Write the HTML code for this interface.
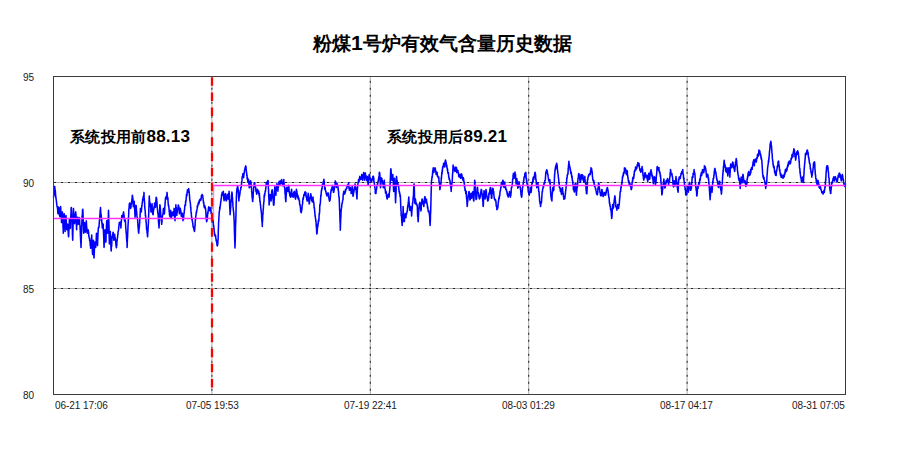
<!DOCTYPE html>
<html><head><meta charset="utf-8"><style>
html,body{margin:0;padding:0;background:#fff;}
body{width:900px;height:451px;position:relative;overflow:hidden;font-family:"Liberation Sans",sans-serif;}
.t{position:absolute;white-space:nowrap;line-height:1;}
.title{font-size:19px;font-weight:bold;color:#000;}
.ann{font-size:15px;font-weight:bold;color:#000;letter-spacing:0.3px;}
.dg{font-size:17px;letter-spacing:0.2px;}
.d1{font-size:21px;}
.ax{font-size:10px;color:#1a1a1a;letter-spacing:-0.05px;}
</style></head><body>
<svg width="900" height="451" style="position:absolute;left:0;top:0">
<line x1="211.9" y1="76.5" x2="211.9" y2="394.5" stroke="#aaaaaa" stroke-width="1"/><line x1="211.9" y1="80.8" x2="211.9" y2="394.5" stroke="#222" stroke-width="1" stroke-dasharray="2 5"/><line x1="370.3" y1="76.5" x2="370.3" y2="394.5" stroke="#aaaaaa" stroke-width="1"/><line x1="370.3" y1="80.8" x2="370.3" y2="394.5" stroke="#222" stroke-width="1" stroke-dasharray="2 5"/><line x1="528.7" y1="76.5" x2="528.7" y2="394.5" stroke="#aaaaaa" stroke-width="1"/><line x1="528.7" y1="80.8" x2="528.7" y2="394.5" stroke="#222" stroke-width="1" stroke-dasharray="2 5"/><line x1="687.1" y1="76.5" x2="687.1" y2="394.5" stroke="#aaaaaa" stroke-width="1"/><line x1="687.1" y1="80.8" x2="687.1" y2="394.5" stroke="#222" stroke-width="1" stroke-dasharray="2 5"/><line x1="53.5" y1="182.5" x2="845.5" y2="182.5" stroke="#aaaaaa" stroke-width="1"/><line x1="54.0" y1="182.5" x2="845.5" y2="182.5" stroke="#222" stroke-width="1" stroke-dasharray="2 5"/><line x1="53.5" y1="288.5" x2="845.5" y2="288.5" stroke="#aaaaaa" stroke-width="1"/><line x1="54.0" y1="288.5" x2="845.5" y2="288.5" stroke="#222" stroke-width="1" stroke-dasharray="2 5"/>
<path d="M53.5,197.7 L53.7,196.1 L53.8,194.1 L54.0,195.4 L54.1,191.7 L54.3,191.0 L54.4,188.0 L54.6,186.7 L54.7,186.4 L54.9,189.0 L55.0,189.6 L55.2,191.1 L55.3,190.6 L55.5,193.2 L55.6,194.7 L55.8,197.5 L55.9,196.9 L56.1,199.5 L56.2,199.5 L56.4,201.4 L56.5,201.5 L56.6,203.8 L56.8,203.9 L56.9,205.4 L57.1,206.6 L57.2,206.9 L57.4,207.7 L57.5,208.7 L57.7,210.4 L57.8,212.5 L58.0,213.7 L58.1,212.2 L58.3,210.7 L58.4,209.4 L58.6,207.0 L58.7,208.7 L58.9,207.5 L59.0,208.2 L59.2,209.8 L59.3,212.9 L59.5,215.4 L59.6,215.7 L59.8,215.5 L59.9,216.7 L60.0,214.2 L60.2,214.9 L60.3,211.7 L60.5,209.6 L60.6,206.6 L60.8,209.4 L60.9,212.3 L61.1,214.5 L61.2,215.3 L61.4,218.3 L61.5,222.6 L61.7,221.0 L61.8,218.1 L62.0,218.0 L62.1,218.0 L62.3,215.7 L62.4,211.9 L62.6,214.7 L62.7,220.3 L62.9,222.1 L63.0,227.1 L63.2,228.6 L63.3,233.2 L63.4,228.0 L63.6,225.5 L63.7,223.0 L63.9,218.2 L64.0,216.4 L64.2,213.7 L64.3,215.8 L64.5,217.9 L64.6,220.8 L64.8,224.5 L64.9,227.4 L65.1,231.4 L65.2,228.5 L65.4,227.1 L65.5,225.5 L65.7,222.3 L65.8,218.5 L66.0,215.5 L66.1,218.6 L66.3,221.5 L66.4,224.7 L66.5,225.8 L66.7,227.5 L66.8,229.7 L67.0,228.3 L67.1,226.6 L67.3,224.2 L67.4,224.2 L67.6,224.4 L67.7,224.3 L67.9,225.4 L68.0,228.6 L68.2,231.4 L68.3,234.0 L68.5,236.3 L68.6,236.8 L68.8,233.0 L68.9,230.3 L69.1,225.2 L69.2,224.0 L69.4,219.5 L69.5,219.0 L69.7,219.4 L69.8,222.7 L69.9,223.0 L70.1,224.7 L70.2,228.4 L70.4,227.9 L70.5,225.2 L70.7,219.9 L70.8,216.0 L71.0,213.2 L71.1,208.6 L71.3,207.5 L71.4,210.9 L71.6,211.6 L71.7,214.6 L71.9,217.6 L72.0,220.6 L72.2,220.8 L72.3,227.6 L72.4,233.2 L72.6,238.2 L72.7,240.3 L72.8,236.2 L73.0,228.6 L73.1,224.5 L73.3,216.8 L73.4,208.4 L73.6,209.9 L73.7,212.5 L73.9,215.4 L74.0,218.6 L74.2,218.3 L74.3,220.6 L74.5,222.6 L74.6,223.6 L74.8,222.0 L74.9,221.4 L75.1,219.3 L75.2,215.8 L75.4,214.2 L75.6,212.7 L75.7,211.9 L75.9,214.7 L76.0,215.4 L76.2,218.7 L76.3,220.6 L76.4,225.0 L76.6,229.7 L76.7,224.7 L76.9,225.8 L77.0,223.0 L77.2,221.5 L77.3,218.4 L77.5,217.3 L77.6,217.4 L77.8,218.8 L77.9,220.7 L78.1,220.4 L78.2,220.3 L78.4,224.3 L78.5,222.7 L78.7,221.0 L78.8,219.8 L79.0,218.1 L79.1,217.6 L79.3,219.0 L79.4,220.4 L79.6,219.7 L79.7,222.6 L79.8,224.5 L80.0,225.4 L80.1,227.9 L80.3,231.7 L80.4,235.5 L80.6,238.8 L80.7,241.9 L80.9,243.7 L81.0,247.4 L81.2,241.8 L81.3,238.1 L81.5,232.9 L81.6,227.7 L81.8,224.9 L81.9,220.8 L82.1,216.1 L82.2,215.9 L82.4,214.3 L82.5,209.8 L82.7,210.1 L82.8,209.3 L82.9,211.3 L83.1,215.4 L83.2,220.0 L83.4,224.3 L83.5,230.4 L83.7,233.2 L83.8,232.6 L84.0,231.7 L84.1,229.4 L84.3,224.9 L84.4,223.6 L84.6,222.6 L84.7,223.2 L84.9,224.6 L85.0,226.8 L85.2,228.9 L85.3,232.2 L85.5,231.4 L85.6,231.5 L85.8,229.0 L85.9,227.5 L86.1,226.4 L86.2,224.9 L86.3,220.8 L86.5,223.9 L86.6,226.9 L86.8,227.0 L86.9,230.0 L87.1,231.5 L87.2,233.2 L87.4,231.1 L87.5,232.3 L87.7,230.7 L87.8,230.6 L88.0,230.2 L88.1,229.7 L88.3,231.1 L88.4,231.7 L88.6,231.8 L88.7,235.2 L88.9,236.7 L89.0,236.8 L89.2,237.5 L89.3,238.4 L89.5,238.2 L89.6,240.8 L89.7,240.8 L89.9,240.3 L90.0,241.4 L90.2,244.3 L90.3,246.0 L90.5,245.2 L90.6,248.3 L90.8,247.4 L90.9,245.8 L91.1,242.8 L91.2,242.3 L91.4,239.0 L91.5,238.1 L91.7,235.0 L91.8,238.8 L92.0,240.7 L92.1,245.2 L92.3,249.5 L92.4,251.7 L92.6,254.5 L92.7,252.9 L92.8,251.8 L93.0,248.4 L93.1,246.5 L93.3,244.6 L93.4,240.3 L93.6,248.0 L93.7,250.3 L93.8,254.1 L94.0,258.0 L94.1,256.6 L94.3,252.5 L94.4,248.2 L94.5,246.5 L94.7,242.1 L94.8,243.9 L95.0,243.6 L95.1,245.6 L95.3,245.8 L95.4,246.3 L95.6,246.0 L95.7,247.4 L95.9,243.6 L96.0,243.0 L96.2,240.5 L96.3,236.7 L96.5,233.2 L96.6,235.2 L96.8,236.8 L96.9,237.2 L97.1,239.9 L97.2,240.9 L97.4,242.2 L97.5,245.6 L97.7,240.1 L97.8,238.3 L97.9,234.4 L98.1,232.5 L98.2,229.7 L98.4,227.7 L98.5,228.0 L98.7,227.0 L98.8,227.2 L99.0,227.3 L99.1,224.5 L99.3,222.6 L99.4,220.7 L99.6,219.6 L99.8,216.5 L99.9,215.2 L100.1,212.3 L100.2,210.2 L100.4,209.7 L100.5,207.5 L100.7,211.2 L100.8,213.2 L101.0,213.9 L101.1,215.3 L101.3,216.1 L101.4,220.8 L101.6,219.2 L101.7,220.1 L101.9,223.5 L102.0,222.6 L102.2,226.6 L102.3,227.9 L102.5,226.4 L102.6,226.1 L102.7,225.1 L102.9,226.8 L103.0,224.0 L103.2,224.3 L103.3,228.7 L103.5,232.5 L103.6,235.0 L103.8,238.4 L103.9,244.0 L104.1,247.4 L104.2,243.4 L104.4,239.8 L104.5,237.7 L104.7,232.8 L104.8,232.2 L105.0,229.7 L105.1,232.4 L105.3,233.4 L105.4,236.4 L105.6,240.0 L105.7,240.1 L105.9,242.1 L106.0,240.0 L106.1,234.7 L106.3,232.3 L106.4,227.1 L106.6,223.8 L106.7,220.8 L106.9,220.9 L107.0,224.0 L107.2,225.7 L107.3,227.6 L107.5,230.7 L107.6,233.2 L107.8,229.1 L107.9,226.8 L108.1,221.6 L108.2,218.4 L108.4,214.6 L108.5,210.2 L108.7,215.5 L108.8,219.9 L109.0,225.9 L109.1,233.1 L109.2,237.6 L109.4,243.9 L109.5,243.2 L109.7,240.5 L109.8,239.9 L110.0,237.2 L110.1,234.5 L110.3,231.4 L110.4,234.1 L110.6,236.0 L110.7,240.7 L110.9,244.8 L111.0,248.9 L111.2,251.0 L111.3,248.2 L111.5,246.0 L111.6,246.4 L111.8,243.3 L111.9,240.2 L112.1,236.8 L112.2,238.1 L112.4,235.7 L112.5,236.4 L112.6,235.5 L112.8,234.1 L112.9,233.2 L113.1,232.2 L113.2,232.7 L113.4,234.7 L113.5,236.6 L113.7,235.6 L113.8,240.3 L114.0,235.6 L114.1,235.0 L114.3,236.2 L114.4,234.6 L114.6,234.4 L114.7,235.0 L114.9,237.1 L115.0,237.3 L115.2,237.7 L115.3,240.2 L115.5,239.3 L115.6,240.3 L115.8,242.7 L115.9,245.3 L116.0,245.2 L116.2,245.7 L116.3,247.7 L116.5,247.4 L116.6,245.6 L116.8,245.5 L116.9,240.8 L117.1,241.2 L117.2,238.7 L117.4,238.5 L117.5,237.6 L117.7,235.5 L117.8,235.2 L118.0,233.1 L118.1,231.7 L118.3,231.4 L118.4,230.3 L118.6,230.3 L118.7,227.8 L118.9,226.3 L119.0,225.4 L119.1,224.3 L119.3,222.5 L119.4,222.7 L119.6,222.9 L119.7,222.4 L119.9,222.3 L120.0,222.6 L120.2,222.0 L120.3,222.1 L120.5,223.1 L120.6,224.9 L120.8,225.3 L120.9,227.9 L121.1,225.2 L121.2,222.2 L121.4,221.5 L121.5,218.9 L121.7,217.1 L121.8,215.5 L122.0,215.7 L122.1,215.4 L122.3,215.4 L122.4,215.4 L122.5,215.2 L122.7,217.3 L122.8,217.1 L123.0,215.6 L123.1,213.7 L123.3,215.5 L123.4,213.3 L123.6,211.9 L123.7,213.5 L123.9,214.2 L124.0,214.5 L124.2,218.3 L124.3,217.3 L124.5,220.8 L124.6,219.5 L124.8,221.5 L124.9,218.9 L125.1,220.1 L125.2,220.3 L125.4,220.8 L125.5,222.4 L125.7,226.8 L125.8,227.7 L125.9,228.9 L126.1,232.1 L126.2,233.2 L126.4,233.8 L126.5,237.7 L126.7,239.9 L126.8,241.7 L127.0,241.5 L127.1,247.4 L127.3,243.1 L127.4,238.9 L127.6,236.3 L127.7,232.7 L127.9,229.5 L128.0,226.1 L128.2,222.8 L128.3,221.4 L128.5,217.0 L128.6,216.8 L128.8,211.1 L128.9,208.4 L129.0,209.3 L129.2,205.7 L129.3,204.1 L129.5,204.8 L129.6,203.0 L129.8,203.1 L129.9,203.6 L130.1,203.6 L130.2,204.8 L130.4,204.0 L130.5,206.7 L130.7,208.4 L130.8,206.9 L131.0,207.5 L131.1,204.0 L131.3,203.5 L131.4,204.5 L131.6,201.3 L131.7,202.3 L131.9,199.4 L132.0,198.9 L132.2,197.0 L132.3,195.2 L132.4,196.0 L132.6,196.2 L132.7,198.3 L132.9,198.3 L133.0,200.9 L133.2,203.9 L133.3,206.6 L133.5,203.8 L133.6,203.7 L133.8,202.4 L133.9,202.0 L134.1,202.2 L134.2,201.3 L134.4,204.7 L134.5,208.3 L134.7,209.7 L134.8,211.8 L135.0,215.1 L135.1,217.3 L135.3,214.3 L135.4,212.6 L135.5,211.3 L135.7,209.1 L135.8,205.7 L136.0,206.6 L136.1,205.4 L136.3,206.8 L136.4,208.7 L136.6,211.3 L136.7,212.3 L136.9,215.5 L137.0,216.9 L137.2,217.1 L137.3,217.7 L137.5,219.1 L137.6,219.1 L137.8,222.6 L137.9,224.8 L138.1,227.1 L138.2,228.1 L138.4,231.4 L138.5,232.2 L138.7,233.2 L138.8,232.2 L138.9,230.4 L139.1,228.5 L139.2,227.9 L139.4,226.2 L139.5,224.3 L139.7,222.5 L139.8,218.3 L140.0,218.0 L140.1,214.8 L140.3,212.2 L140.4,208.4 L140.6,210.1 L140.7,209.9 L140.9,209.2 L141.0,209.8 L141.2,210.6 L141.3,211.9 L141.5,209.5 L141.6,208.8 L141.8,205.3 L141.9,206.1 L142.1,204.4 L142.2,203.1 L142.3,202.2 L142.5,202.4 L142.6,199.3 L142.8,200.6 L142.9,200.3 L143.1,197.7 L143.2,196.7 L143.4,197.4 L143.5,197.8 L143.7,195.1 L143.8,196.1 L144.0,192.4 L144.1,198.0 L144.3,198.9 L144.4,200.3 L144.6,202.8 L144.7,206.9 L144.9,208.4 L145.0,209.5 L145.2,210.8 L145.3,212.8 L145.4,215.8 L145.6,215.3 L145.7,219.0 L145.9,217.9 L146.0,222.3 L146.2,222.1 L146.3,224.0 L146.5,227.5 L146.6,229.7 L146.8,228.4 L146.9,229.4 L147.1,233.3 L147.2,232.9 L147.4,234.4 L147.5,236.8 L147.7,236.0 L147.8,231.5 L148.0,231.2 L148.1,227.1 L148.3,224.7 L148.4,224.3 L148.6,217.3 L148.7,214.1 L148.8,210.0 L149.0,205.3 L149.1,201.4 L149.3,196.0 L149.4,198.1 L149.6,201.0 L149.7,202.5 L149.9,203.1 L150.0,204.5 L150.2,203.1 L150.3,204.9 L150.5,206.4 L150.6,207.2 L150.8,207.9 L150.9,211.3 L151.1,211.9 L151.2,210.3 L151.4,209.2 L151.5,207.1 L151.7,204.7 L151.8,204.5 L152.0,204.8 L152.1,203.8 L152.2,208.3 L152.4,208.3 L152.5,210.3 L152.7,214.2 L152.8,213.7 L153.0,213.5 L153.1,214.7 L153.3,211.8 L153.4,211.8 L153.6,209.1 L153.7,208.4 L153.9,209.5 L154.0,207.2 L154.2,206.2 L154.3,206.4 L154.5,205.5 L154.6,203.1 L154.8,204.5 L154.9,204.4 L155.1,206.0 L155.2,204.5 L155.3,207.3 L155.5,206.6 L155.6,204.0 L155.8,201.7 L155.9,200.6 L156.1,198.2 L156.2,197.2 L156.4,197.7 L156.5,197.8 L156.7,199.2 L156.8,200.8 L157.0,202.6 L157.1,205.1 L157.3,208.4 L157.4,209.2 L157.6,209.7 L157.7,212.3 L157.9,213.0 L158.0,213.5 L158.2,215.5 L158.3,217.8 L158.5,222.0 L158.6,222.5 L158.7,223.9 L158.9,225.9 L159.0,227.9 L159.2,224.2 L159.3,218.7 L159.5,214.8 L159.6,211.1 L159.8,206.2 L159.9,204.8 L160.1,205.9 L160.2,207.5 L160.4,209.4 L160.5,211.1 L160.7,213.0 L160.8,215.5 L161.0,217.1 L161.1,217.1 L161.3,220.9 L161.4,219.8 L161.6,223.5 L161.7,224.3 L161.8,221.5 L162.0,221.9 L162.1,218.8 L162.3,216.7 L162.4,216.6 L162.6,215.5 L162.7,214.9 L162.9,213.7 L163.0,213.0 L163.2,212.5 L163.3,209.0 L163.5,208.4 L163.6,210.6 L163.8,211.1 L163.9,213.5 L164.1,212.8 L164.2,213.9 L164.4,213.7 L164.5,211.9 L164.7,210.1 L164.8,207.0 L165.0,205.7 L165.1,202.8 L165.2,203.1 L165.4,198.5 L165.5,199.9 L165.7,197.1 L165.8,197.0 L166.0,199.1 L166.1,197.7 L166.3,197.3 L166.4,198.4 L166.6,195.9 L166.7,195.5 L166.9,196.1 L167.0,192.4 L167.2,194.0 L167.3,196.2 L167.5,198.4 L167.6,197.2 L167.8,199.7 L167.9,197.7 L168.1,202.3 L168.2,203.5 L168.4,205.3 L168.5,206.1 L168.6,205.1 L168.8,206.6 L168.9,207.6 L169.1,209.7 L169.2,212.2 L169.4,211.9 L169.5,214.9 L169.7,215.5 L169.8,215.0 L170.0,216.7 L170.1,215.0 L170.3,214.3 L170.4,213.8 L170.6,210.2 L170.7,212.5 L170.9,215.4 L171.0,216.8 L171.2,217.5 L171.3,216.4 L171.5,217.3 L171.6,215.3 L171.7,213.6 L171.9,214.4 L172.0,212.5 L172.2,211.9 L172.3,211.9 L172.5,212.6 L172.6,213.9 L172.8,213.5 L172.9,214.0 L173.1,215.6 L173.2,213.7 L173.4,215.2 L173.5,213.0 L173.7,211.5 L173.8,213.1 L174.0,211.4 L174.1,208.4 L174.3,211.9 L174.4,213.3 L174.6,216.9 L174.7,217.2 L174.9,218.5 L175.0,220.8 L175.1,217.3 L175.3,215.3 L175.4,213.3 L175.6,209.7 L175.7,208.6 L175.9,204.8 L176.0,206.4 L176.2,207.4 L176.3,209.6 L176.5,211.2 L176.6,213.0 L176.8,215.5 L176.9,213.6 L177.1,212.9 L177.2,211.9 L177.4,212.1 L177.5,209.2 L177.7,210.2 L177.8,209.3 L178.0,207.1 L178.1,208.1 L178.3,205.0 L178.4,205.6 L178.5,206.6 L178.7,205.7 L178.8,207.6 L179.0,207.1 L179.1,208.5 L179.3,209.7 L179.4,213.7 L179.6,212.2 L179.7,211.8 L179.9,209.6 L180.0,209.6 L180.2,208.5 L180.3,208.4 L180.5,210.6 L180.6,210.0 L180.8,211.3 L180.9,211.4 L181.1,214.1 L181.2,215.5 L181.4,216.4 L181.5,216.1 L181.6,214.3 L181.8,215.7 L181.9,214.9 L182.1,213.7 L182.2,213.2 L182.4,216.0 L182.5,215.1 L182.7,215.5 L182.8,218.3 L183.0,220.8 L183.1,219.6 L183.3,218.9 L183.4,219.5 L183.6,218.1 L183.7,216.4 L183.9,213.7 L184.0,212.8 L184.2,212.9 L184.3,211.0 L184.5,210.1 L184.6,208.5 L184.8,206.6 L184.9,205.8 L185.0,205.2 L185.2,204.9 L185.3,204.0 L185.5,205.4 L185.6,201.3 L185.8,202.5 L185.9,200.3 L186.1,200.5 L186.2,199.0 L186.4,196.1 L186.5,194.2 L186.7,196.3 L186.8,194.0 L187.0,195.5 L187.1,192.2 L187.3,191.8 L187.4,189.8 L187.6,190.6 L187.7,192.3 L187.9,192.0 L188.0,191.2 L188.2,189.7 L188.3,190.6 L188.4,190.0 L188.6,190.6 L188.7,188.5 L188.9,190.9 L189.0,190.8 L189.2,192.4 L189.3,194.1 L189.5,195.5 L189.6,197.3 L189.8,200.5 L189.9,200.3 L190.1,201.3 L190.2,202.7 L190.4,203.4 L190.5,204.9 L190.7,208.0 L190.8,207.2 L191.0,211.9 L191.1,212.4 L191.3,212.6 L191.4,215.3 L191.5,216.3 L191.7,217.4 L191.8,219.0 L192.0,220.2 L192.1,218.7 L192.3,220.3 L192.4,221.5 L192.6,222.6 L192.7,222.6 L192.9,224.6 L193.0,226.0 L193.2,226.3 L193.3,227.7 L193.5,227.7 L193.6,227.9 L193.8,228.0 L193.9,229.0 L194.1,230.2 L194.2,230.9 L194.4,230.0 L194.5,231.4 L194.7,229.3 L194.8,228.4 L194.9,225.6 L195.1,226.0 L195.2,221.7 L195.4,219.0 L195.5,220.1 L195.7,218.2 L195.8,215.8 L196.0,215.5 L196.1,213.8 L196.3,211.9 L196.4,213.0 L196.6,211.9 L196.7,210.2 L196.9,210.2 L197.0,209.4 L197.2,208.4 L197.3,205.9 L197.5,207.2 L197.6,206.5 L197.8,206.3 L197.9,205.0 L198.0,204.8 L198.2,203.3 L198.3,202.7 L198.5,204.0 L198.6,202.6 L198.8,204.1 L198.9,201.3 L199.1,202.7 L199.2,202.8 L199.4,200.8 L199.5,200.1 L199.7,201.3 L199.8,200.1 L200.0,199.3 L200.2,199.8 L200.3,199.4 L200.5,200.1 L200.6,199.7 L200.8,198.7 L200.9,200.1 L201.1,199.2 L201.2,198.2 L201.4,196.1 L201.5,195.2 L201.7,196.3 L201.8,196.1 L202.0,196.2 L202.1,195.7 L202.2,194.4 L202.4,195.9 L202.5,195.4 L202.7,195.3 L202.8,197.1 L202.9,197.5 L203.1,198.2 L203.2,199.9 L203.4,201.3 L203.5,203.1 L203.6,201.5 L203.8,203.0 L203.9,204.8 L204.1,206.8 L204.2,206.8 L204.4,207.0 L204.5,207.8 L204.7,205.4 L204.8,207.7 L205.0,207.3 L205.1,207.2 L205.3,207.0 L205.4,209.0 L205.6,208.7 L205.7,210.8 L205.9,212.9 L206.0,214.0 L206.1,217.8 L206.3,218.9 L206.4,219.4 L206.6,221.8 L206.7,220.5 L206.8,221.2 L207.0,220.6 L207.1,218.3 L207.3,219.2 L207.4,217.7 L207.5,216.5 L207.7,212.7 L207.8,212.3 L208.0,213.6 L208.1,210.4 L208.2,211.2 L208.4,210.2 L208.5,208.0 L208.7,206.9 L208.8,208.9 L208.9,210.2 L209.1,209.3 L209.2,208.3 L209.4,209.7 L209.5,208.2 L209.6,210.8 L209.8,209.4 L209.9,208.1 L210.0,207.4 L210.2,210.3 L210.3,207.8 L210.5,208.6 L210.6,208.8 L210.7,211.1 L210.9,209.8 L211.0,211.9 L211.2,213.6 L211.3,213.5 L211.4,213.5 L211.6,212.7 L211.7,215.5 L211.9,216.1 L212.0,215.9 L212.1,216.5 L212.3,216.0 L212.4,216.8 L212.6,220.5 L212.7,220.9 L212.8,221.8 L213.0,219.9 L213.1,221.5 L213.3,222.6 L213.4,225.2 L213.5,226.4 L213.7,225.4 L213.8,226.4 L213.9,229.3 L214.1,228.7 L214.2,232.2 L214.4,232.0 L214.5,234.2 L214.6,235.1 L214.8,235.4 L214.9,234.0 L215.1,236.3 L215.2,235.4 L215.3,235.0 L215.5,236.1 L215.6,235.4 L215.8,238.2 L215.9,238.5 L216.0,238.5 L216.2,241.0 L216.3,239.9 L216.5,242.0 L216.6,242.2 L216.7,241.7 L216.9,243.1 L217.0,245.4 L217.2,245.1 L217.3,244.9 L217.4,245.9 L217.6,244.7 L217.7,244.7 L217.9,242.0 L218.0,240.0 L218.2,237.1 L218.3,230.0 L218.5,227.8 L218.6,222.5 L218.8,220.5 L218.9,217.5 L219.1,214.7 L219.2,212.4 L219.4,211.3 L219.5,211.3 L219.7,208.1 L219.8,206.9 L220.0,208.8 L220.1,206.5 L220.3,205.8 L220.4,204.7 L220.6,203.6 L220.7,201.6 L220.9,201.5 L221.0,199.9 L221.2,198.4 L221.3,199.1 L221.5,196.3 L221.6,194.5 L221.8,194.1 L221.9,194.0 L222.0,194.0 L222.2,192.4 L222.3,195.2 L222.4,194.6 L222.6,193.5 L222.7,194.2 L222.9,194.8 L223.0,193.0 L223.1,195.2 L223.3,191.3 L223.4,196.1 L223.6,195.0 L223.7,195.6 L223.8,198.7 L224.0,199.9 L224.1,200.6 L224.3,199.1 L224.4,198.8 L224.5,198.2 L224.7,195.5 L224.8,194.7 L225.0,194.1 L225.1,194.5 L225.2,195.2 L225.4,193.5 L225.5,197.2 L225.7,195.7 L225.8,199.7 L225.9,198.5 L226.1,201.0 L226.2,201.0 L226.3,200.8 L226.5,200.4 L226.6,198.1 L226.8,197.9 L226.9,196.0 L227.0,196.9 L227.2,196.1 L227.3,194.4 L227.5,197.2 L227.6,196.7 L227.7,195.5 L227.9,198.6 L228.0,197.2 L228.2,199.1 L228.3,195.8 L228.4,195.3 L228.6,193.5 L228.7,193.4 L228.9,193.8 L229.0,193.8 L229.1,191.3 L229.3,195.4 L229.4,199.6 L229.6,203.0 L229.7,206.0 L229.8,208.3 L230.0,211.2 L230.1,214.7 L230.2,212.2 L230.4,211.4 L230.5,208.2 L230.7,207.7 L230.8,204.3 L230.9,203.0 L231.1,201.0 L231.2,199.4 L231.4,198.4 L231.5,195.7 L231.6,194.8 L231.8,194.8 L231.9,192.1 L232.1,193.2 L232.2,194.1 L232.3,197.0 L232.5,197.4 L232.6,201.1 L232.8,202.2 L232.9,205.2 L233.0,206.9 L233.2,207.6 L233.3,209.8 L233.5,211.1 L233.6,211.2 L233.7,213.7 L233.9,215.4 L234.0,218.6 L234.2,221.1 L234.3,226.2 L234.4,231.5 L234.6,235.7 L234.7,240.2 L234.8,242.8 L235.0,247.9 L235.1,243.9 L235.3,238.8 L235.4,234.9 L235.5,227.2 L235.7,222.8 L235.8,220.3 L236.0,212.7 L236.1,207.7 L236.2,203.2 L236.4,197.1 L236.5,195.2 L236.6,192.4 L236.8,190.3 L236.9,189.3 L237.1,188.1 L237.2,189.0 L237.4,187.2 L237.5,187.6 L237.6,185.9 L237.8,187.0 L237.9,188.3 L238.1,188.5 L238.2,190.8 L238.3,193.1 L238.5,192.6 L238.6,197.3 L238.7,198.2 L238.9,201.0 L239.0,198.1 L239.2,197.8 L239.3,195.7 L239.4,195.2 L239.6,196.1 L239.7,194.7 L239.9,193.2 L240.0,193.6 L240.1,190.9 L240.3,190.1 L240.4,190.2 L240.6,189.8 L240.7,189.8 L240.8,187.4 L241.0,187.2 L241.1,187.8 L241.3,186.4 L241.4,184.4 L241.5,184.7 L241.7,181.4 L241.8,181.5 L242.0,180.4 L242.1,177.7 L242.2,176.5 L242.4,177.0 L242.5,176.4 L242.7,175.9 L242.8,173.7 L242.9,175.0 L243.1,177.0 L243.2,176.7 L243.3,175.0 L243.5,174.7 L243.6,177.7 L243.8,175.7 L243.9,175.2 L244.0,173.3 L244.2,172.5 L244.3,173.1 L244.5,170.5 L244.6,170.1 L244.7,169.8 L244.9,169.4 L245.0,167.8 L245.2,168.1 L245.3,168.4 L245.4,167.3 L245.6,166.2 L245.7,165.9 L245.9,166.8 L246.0,167.1 L246.1,169.3 L246.3,170.6 L246.4,171.6 L246.6,172.5 L246.7,173.7 L246.8,175.6 L247.0,174.9 L247.1,177.4 L247.2,179.2 L247.4,177.4 L247.5,179.0 L247.7,179.6 L247.8,181.9 L247.9,179.2 L248.1,181.5 L248.2,180.8 L248.4,179.3 L248.5,181.4 L248.6,181.5 L248.8,181.1 L248.9,184.6 L249.1,184.1 L249.2,187.0 L249.3,187.8 L249.5,186.2 L249.6,187.4 L249.8,186.6 L249.9,184.9 L250.0,185.7 L250.2,182.6 L250.3,181.6 L250.5,180.7 L250.6,181.5 L250.7,182.8 L250.9,181.9 L251.0,183.1 L251.1,184.6 L251.3,186.2 L251.4,187.2 L251.6,189.3 L251.7,192.0 L251.8,192.1 L252.0,194.4 L252.1,197.4 L252.3,197.3 L252.4,198.9 L252.5,201.0 L252.7,201.5 L252.8,198.6 L253.0,198.8 L253.1,196.7 L253.2,193.5 L253.4,191.5 L253.5,191.3 L253.7,187.2 L253.8,187.9 L253.9,185.8 L254.1,184.7 L254.2,183.3 L254.4,182.7 L254.5,183.5 L254.6,184.6 L254.8,183.1 L254.9,184.9 L255.1,185.7 L255.2,185.9 L255.3,186.4 L255.5,187.4 L255.6,187.2 L255.7,187.6 L255.9,190.4 L256.0,191.5 L256.2,191.4 L256.3,191.4 L256.4,191.3 L256.6,194.2 L256.7,191.9 L256.9,191.5 L257.0,192.7 L257.1,193.1 L257.3,192.0 L257.4,189.3 L257.6,190.2 L257.7,192.6 L257.8,190.0 L258.0,190.4 L258.1,192.1 L258.3,191.4 L258.4,191.3 L258.5,192.4 L258.7,191.0 L258.8,194.1 L259.0,193.4 L259.1,192.9 L259.2,195.9 L259.4,193.2 L259.5,197.8 L259.6,196.4 L259.8,199.0 L259.9,201.6 L260.1,201.2 L260.2,202.2 L260.3,203.0 L260.5,205.5 L260.6,205.5 L260.8,208.1 L260.9,208.7 L261.0,209.8 L261.2,210.9 L261.3,212.7 L261.5,213.1 L261.6,216.7 L261.7,218.4 L261.9,220.3 L262.0,222.3 L262.2,223.2 L262.3,226.4 L262.4,221.7 L262.6,221.1 L262.7,216.7 L262.9,213.4 L263.0,214.1 L263.1,210.7 L263.3,208.8 L263.4,207.9 L263.5,205.5 L263.7,203.5 L263.8,202.0 L264.0,201.5 L264.1,197.7 L264.2,195.2 L264.4,196.9 L264.5,194.4 L264.7,195.6 L264.8,193.1 L264.9,193.5 L265.1,192.2 L265.2,191.3 L265.4,190.9 L265.5,191.1 L265.6,189.5 L265.8,188.8 L265.9,186.6 L266.1,185.7 L266.2,183.5 L266.3,184.2 L266.5,185.6 L266.6,182.7 L266.8,183.4 L266.9,184.3 L267.0,183.1 L267.2,181.5 L267.3,181.5 L267.5,183.7 L267.6,180.9 L267.7,180.9 L267.9,180.5 L268.0,181.6 L268.1,180.5 L268.3,186.2 L268.4,187.8 L268.6,191.2 L268.7,196.1 L268.8,197.3 L269.0,200.4 L269.1,204.9 L269.3,203.9 L269.4,200.4 L269.5,200.0 L269.7,197.1 L269.8,196.7 L270.0,195.7 L270.1,195.2 L270.2,194.5 L270.4,195.2 L270.5,197.4 L270.7,198.9 L270.8,198.2 L270.9,199.8 L271.1,201.0 L271.2,198.7 L271.4,197.2 L271.5,194.6 L271.6,193.9 L271.8,190.9 L271.9,191.4 L272.0,191.3 L272.2,189.7 L272.3,190.5 L272.5,191.3 L272.6,192.7 L272.7,194.3 L272.9,197.9 L273.0,199.1 L273.2,199.5 L273.3,200.9 L273.4,203.8 L273.6,205.2 L273.7,205.0 L273.9,203.6 L274.0,204.9 L274.1,201.1 L274.3,198.5 L274.4,194.7 L274.6,192.1 L274.7,189.2 L274.8,186.8 L275.0,187.4 L275.1,187.0 L275.3,187.7 L275.4,188.4 L275.5,189.6 L275.7,191.2 L275.8,192.5 L275.9,195.2 L276.1,190.0 L276.2,190.8 L276.4,188.3 L276.5,186.9 L276.6,187.7 L276.8,186.0 L276.9,183.5 L277.1,185.5 L277.2,186.2 L277.3,188.0 L277.5,188.6 L277.6,188.9 L277.8,188.7 L277.9,191.3 L278.0,189.2 L278.2,187.1 L278.3,187.7 L278.5,186.0 L278.6,184.4 L278.7,185.0 L278.9,185.4 L279.0,182.3 L279.2,181.3 L279.3,182.0 L279.4,181.4 L279.6,182.6 L279.7,184.2 L279.9,181.5 L280.0,184.5 L280.1,183.3 L280.3,181.6 L280.4,181.5 L280.5,181.1 L280.7,181.3 L280.8,183.5 L281.0,182.0 L281.1,180.2 L281.2,181.6 L281.4,181.5 L281.5,182.2 L281.7,182.7 L281.8,179.6 L281.9,181.6 L282.1,183.0 L282.2,182.7 L282.4,183.9 L282.5,185.2 L282.6,184.2 L282.8,185.4 L282.9,185.8 L283.1,185.1 L283.2,183.4 L283.3,182.9 L283.5,183.9 L283.6,181.8 L283.8,179.6 L283.9,181.8 L284.0,183.2 L284.2,185.2 L284.3,186.0 L284.4,186.9 L284.6,187.7 L284.7,187.4 L284.9,189.8 L285.0,192.3 L285.1,194.3 L285.3,194.4 L285.4,198.0 L285.6,199.2 L285.7,201.0 L285.8,201.6 L286.0,199.7 L286.1,195.5 L286.3,195.1 L286.4,191.5 L286.5,188.2 L286.7,187.4 L286.8,187.9 L287.0,187.9 L287.1,187.5 L287.2,188.2 L287.4,190.3 L287.5,190.2 L287.7,191.3 L287.8,191.5 L287.9,191.2 L288.1,191.1 L288.2,190.1 L288.3,187.4 L288.5,186.0 L288.6,185.4 L288.8,186.9 L288.9,188.0 L289.0,188.6 L289.2,191.4 L289.3,192.6 L289.5,193.4 L289.6,193.2 L289.7,194.9 L289.9,195.8 L290.0,194.3 L290.2,196.2 L290.3,194.2 L290.4,196.6 L290.6,197.1 L290.7,194.4 L290.9,192.8 L291.0,191.9 L291.1,192.5 L291.3,191.5 L291.4,191.6 L291.6,189.3 L291.7,190.3 L291.8,193.7 L292.0,193.3 L292.1,194.3 L292.3,196.2 L292.4,196.8 L292.5,195.2 L292.7,196.7 L292.8,195.8 L292.9,195.9 L293.1,194.2 L293.2,194.4 L293.4,195.7 L293.5,197.1 L293.6,193.2 L293.8,192.5 L293.9,194.2 L294.1,192.1 L294.2,192.0 L294.3,191.5 L294.5,191.3 L294.6,192.6 L294.8,192.7 L294.9,195.3 L295.0,194.3 L295.2,198.2 L295.3,197.9 L295.5,199.1 L295.6,199.0 L295.7,196.8 L295.9,197.0 L296.0,194.7 L296.2,193.9 L296.3,191.2 L296.4,189.3 L296.6,191.5 L296.7,192.0 L296.8,190.9 L297.0,193.2 L297.1,194.8 L297.3,193.8 L297.4,197.1 L297.5,194.9 L297.7,197.4 L297.8,197.7 L298.0,195.5 L298.1,197.8 L298.2,198.6 L298.4,199.1 L298.5,197.2 L298.7,199.1 L298.8,198.0 L298.9,200.0 L299.1,199.8 L299.2,200.2 L299.4,201.0 L299.5,200.9 L299.6,203.6 L299.8,204.8 L299.9,204.5 L300.1,204.7 L300.2,205.8 L300.3,206.9 L300.5,208.2 L300.6,211.3 L300.7,211.1 L300.9,212.1 L301.0,212.2 L301.2,210.9 L301.3,212.7 L301.4,210.8 L301.6,211.3 L301.7,209.9 L301.9,209.1 L302.0,207.5 L302.1,206.0 L302.3,204.9 L302.4,204.2 L302.6,203.8 L302.7,201.6 L302.8,199.6 L303.0,199.6 L303.1,197.9 L303.3,199.1 L303.4,197.3 L303.5,197.6 L303.7,196.1 L303.8,195.4 L304.0,194.4 L304.1,194.6 L304.2,195.2 L304.4,194.2 L304.5,194.2 L304.7,195.1 L304.8,192.2 L304.9,192.6 L305.1,191.8 L305.2,193.2 L305.3,194.2 L305.5,193.6 L305.6,193.9 L305.8,194.7 L305.9,192.5 L306.0,195.7 L306.2,197.1 L306.3,195.8 L306.5,197.6 L306.6,197.8 L306.7,199.7 L306.9,199.3 L307.0,200.1 L307.2,201.0 L307.3,200.2 L307.4,200.9 L307.6,199.4 L307.7,197.8 L307.9,197.3 L308.0,196.4 L308.1,193.2 L308.3,195.2 L308.4,196.8 L308.6,198.5 L308.7,198.8 L308.8,200.9 L309.0,201.1 L309.1,203.0 L309.2,203.9 L309.4,203.5 L309.5,201.7 L309.7,199.3 L309.8,198.1 L309.9,198.8 L310.1,197.1 L310.2,197.1 L310.4,195.9 L310.5,194.6 L310.6,194.8 L310.8,193.7 L310.9,195.3 L311.1,195.2 L311.2,197.9 L311.3,196.8 L311.5,199.0 L311.6,200.6 L311.8,200.9 L311.9,200.9 L312.0,201.0 L312.2,201.0 L312.3,201.9 L312.5,201.9 L312.6,201.1 L312.7,199.1 L312.9,199.5 L313.0,197.1 L313.1,200.1 L313.3,199.8 L313.4,201.9 L313.6,201.8 L313.7,202.2 L313.8,202.6 L314.0,204.9 L314.1,207.1 L314.3,208.5 L314.4,207.8 L314.5,209.2 L314.7,211.3 L314.8,212.4 L315.0,214.7 L315.1,216.2 L315.2,215.6 L315.4,217.7 L315.5,218.6 L315.7,218.9 L315.8,221.4 L315.9,220.5 L316.1,223.0 L316.2,225.1 L316.4,227.5 L316.5,228.6 L316.6,229.8 L316.8,234.0 L316.9,232.2 L317.1,233.1 L317.2,231.1 L317.3,229.5 L317.5,228.4 L317.6,226.0 L317.7,224.1 L317.9,226.4 L318.0,223.8 L318.2,224.0 L318.3,220.7 L318.4,222.4 L318.6,219.7 L318.7,221.2 L318.9,220.5 L319.0,218.5 L319.1,215.3 L319.3,213.4 L319.4,213.8 L319.6,212.2 L319.7,209.6 L319.8,204.9 L320.0,205.5 L320.1,204.2 L320.3,203.6 L320.4,202.5 L320.5,200.8 L320.7,197.5 L320.8,195.2 L321.0,196.2 L321.1,195.4 L321.2,193.1 L321.4,190.4 L321.5,190.1 L321.6,190.5 L321.8,189.3 L321.9,188.1 L322.1,188.7 L322.2,186.9 L322.3,186.5 L322.5,184.2 L322.6,184.8 L322.8,183.5 L322.9,184.5 L323.0,184.9 L323.2,184.3 L323.3,181.5 L323.5,181.4 L323.6,182.0 L323.7,180.5 L323.9,179.3 L324.0,180.1 L324.2,181.8 L324.3,184.8 L324.4,184.9 L324.6,187.3 L324.7,189.3 L324.9,189.3 L325.0,189.6 L325.1,187.5 L325.3,189.6 L325.4,190.2 L325.5,190.1 L325.7,191.3 L325.8,191.4 L326.0,192.1 L326.1,192.4 L326.2,194.0 L326.4,193.9 L326.5,193.5 L326.7,195.2 L326.8,194.5 L326.9,196.0 L327.1,193.7 L327.2,193.6 L327.4,194.3 L327.5,193.2 L327.6,193.2 L327.8,193.6 L327.9,193.1 L328.1,193.7 L328.2,192.9 L328.3,193.8 L328.5,194.2 L328.6,197.1 L328.8,197.1 L328.9,198.0 L329.0,197.5 L329.2,200.1 L329.3,199.5 L329.5,201.2 L329.6,201.0 L329.7,200.0 L329.9,200.4 L330.0,198.5 L330.1,200.0 L330.3,197.4 L330.4,197.2 L330.6,193.2 L330.7,193.3 L330.8,191.9 L331.0,192.3 L331.1,189.5 L331.3,189.6 L331.4,189.7 L331.5,189.3 L331.7,190.3 L331.8,189.2 L332.0,187.0 L332.1,188.0 L332.2,188.7 L332.4,187.6 L332.5,185.4 L332.7,186.0 L332.8,185.9 L332.9,186.9 L333.1,189.3 L333.2,188.7 L333.4,192.1 L333.5,191.3 L333.6,191.2 L333.8,192.2 L333.9,192.0 L334.0,189.9 L334.2,189.9 L334.3,189.5 L334.5,187.4 L334.6,186.6 L334.7,186.3 L334.9,185.5 L335.0,185.4 L335.2,182.3 L335.3,180.9 L335.4,181.5 L335.6,181.4 L335.7,182.3 L335.9,182.7 L336.0,184.8 L336.1,183.5 L336.3,185.2 L336.4,187.4 L336.6,185.5 L336.7,184.3 L336.8,184.7 L337.0,184.2 L337.1,183.6 L337.3,184.3 L337.4,185.4 L337.5,185.3 L337.7,186.5 L337.8,185.4 L338.0,187.1 L338.1,190.0 L338.2,188.6 L338.4,191.3 L338.5,191.3 L338.6,192.5 L338.8,196.5 L338.9,196.5 L339.1,197.6 L339.2,197.9 L339.3,201.0 L339.5,205.5 L339.6,209.9 L339.8,213.0 L339.9,217.6 L340.0,220.6 L340.2,223.9 L340.3,230.3 L340.5,224.8 L340.6,222.3 L340.7,218.9 L340.9,216.7 L341.0,212.8 L341.2,209.8 L341.3,208.8 L341.4,208.4 L341.6,207.4 L341.7,206.4 L341.9,204.1 L342.0,203.6 L342.1,203.4 L342.3,203.0 L342.4,202.9 L342.5,200.7 L342.7,200.5 L342.8,199.9 L343.0,199.6 L343.1,196.5 L343.2,195.2 L343.4,193.0 L343.5,193.3 L343.7,193.8 L343.8,191.2 L344.0,192.9 L344.1,191.8 L344.3,192.6 L344.4,194.1 L344.6,192.9 L344.7,193.9 L344.9,193.5 L345.1,192.2 L345.2,192.5 L345.4,191.9 L345.5,189.4 L345.7,189.6 L345.8,190.1 L346.0,189.9 L346.1,189.2 L346.3,189.0 L346.4,188.7 L346.6,187.7 L346.8,188.3 L346.9,187.5 L347.1,185.7 L347.2,186.2 L347.4,185.8 L347.5,184.9 L347.7,184.9 L347.9,186.2 L348.0,184.5 L348.2,185.2 L348.3,185.2 L348.5,183.0 L348.6,186.1 L348.8,185.9 L349.0,188.5 L349.1,187.9 L349.3,190.2 L349.4,189.6 L349.6,190.2 L349.7,190.4 L349.9,190.3 L350.1,190.1 L350.2,187.4 L350.4,187.7 L350.5,190.0 L350.7,189.5 L350.8,190.5 L351.0,190.0 L351.1,193.6 L351.3,193.3 L351.5,191.8 L351.6,190.9 L351.8,190.0 L351.9,188.7 L352.1,187.7 L352.2,185.8 L352.4,188.3 L352.6,190.7 L352.7,191.9 L352.9,194.5 L353.0,196.2 L353.2,195.2 L353.3,196.0 L353.5,193.0 L353.7,192.5 L353.8,191.9 L354.0,191.2 L354.1,189.6 L354.3,189.0 L354.4,187.7 L354.6,188.7 L354.8,187.7 L354.9,186.1 L355.1,183.9 L355.2,187.1 L355.4,186.1 L355.5,188.9 L355.7,189.4 L355.9,189.8 L356.0,187.7 L356.2,188.9 L356.3,192.1 L356.5,193.9 L356.6,193.6 L356.8,196.7 L357.0,199.0 L357.1,194.4 L357.3,191.8 L357.4,188.6 L357.6,186.9 L357.7,186.1 L357.9,183.9 L358.1,182.2 L358.2,182.2 L358.4,182.6 L358.5,179.9 L358.7,181.8 L358.8,180.2 L359.0,181.6 L359.2,180.5 L359.3,178.9 L359.5,177.7 L359.6,177.8 L359.8,176.4 L359.9,177.2 L360.1,177.4 L360.3,179.2 L360.4,179.6 L360.6,179.1 L360.7,178.3 L360.9,179.0 L361.0,179.3 L361.2,179.2 L361.4,178.4 L361.5,177.6 L361.7,174.5 L361.8,178.4 L362.0,178.3 L362.1,177.8 L362.3,179.1 L362.5,179.2 L362.6,180.2 L362.8,177.2 L362.9,175.5 L363.1,175.0 L363.2,174.9 L363.4,173.9 L363.6,173.6 L363.7,172.5 L363.9,174.4 L364.0,174.1 L364.2,176.9 L364.3,177.6 L364.5,180.2 L364.7,178.7 L364.8,178.0 L365.0,174.5 L365.1,176.3 L365.3,172.9 L365.4,174.5 L365.6,175.5 L365.8,176.6 L365.9,175.5 L366.1,176.8 L366.2,177.4 L366.4,178.3 L366.5,180.5 L366.7,179.8 L366.9,180.3 L367.0,179.6 L367.2,178.1 L367.3,176.4 L367.5,180.4 L367.6,180.4 L367.8,181.7 L368.0,183.2 L368.1,185.3 L368.3,183.9 L368.4,182.7 L368.6,181.3 L368.7,179.1 L368.9,177.6 L369.1,174.9 L369.2,174.5 L369.4,174.9 L369.5,176.5 L369.7,177.4 L369.8,179.4 L370.0,178.1 L370.2,178.3 L370.3,178.5 L370.5,178.2 L370.6,179.5 L370.8,180.9 L370.9,180.8 L371.1,182.0 L371.2,181.5 L371.4,182.1 L371.6,181.6 L371.7,179.8 L371.9,179.6 L372.0,180.2 L372.2,180.1 L372.3,178.8 L372.5,179.6 L372.7,177.3 L372.8,177.1 L373.0,176.4 L373.1,177.2 L373.3,176.2 L373.4,176.2 L373.6,178.8 L373.8,178.0 L373.9,182.0 L374.1,182.1 L374.2,182.1 L374.4,183.9 L374.5,184.4 L374.7,185.9 L374.9,187.7 L375.0,188.4 L375.2,189.5 L375.3,193.5 L375.5,191.8 L375.6,191.8 L375.8,193.3 L376.0,193.4 L376.1,190.7 L376.3,189.7 L376.4,189.8 L376.6,188.4 L376.7,187.7 L376.9,185.5 L377.1,185.0 L377.2,185.7 L377.4,185.3 L377.5,183.5 L377.7,183.9 L377.8,182.4 L378.0,182.5 L378.2,180.3 L378.3,181.7 L378.5,180.4 L378.6,178.3 L378.8,177.1 L378.9,177.4 L379.1,175.9 L379.3,172.8 L379.4,172.3 L379.6,172.6 L379.7,173.7 L379.9,175.1 L380.0,178.7 L380.2,180.1 L380.4,185.2 L380.5,187.7 L380.7,185.7 L380.8,183.9 L381.0,180.8 L381.1,180.4 L381.3,177.8 L381.5,178.3 L381.6,178.4 L381.8,178.3 L381.9,179.2 L382.1,180.0 L382.2,180.2 L382.4,182.0 L382.6,182.2 L382.7,183.5 L382.9,183.1 L383.0,185.1 L383.2,186.9 L383.3,187.7 L383.5,185.8 L383.7,185.6 L383.8,182.1 L384.0,182.9 L384.1,180.7 L384.3,180.2 L384.4,183.8 L384.6,184.4 L384.8,186.9 L384.9,189.0 L385.1,189.0 L385.2,189.6 L385.4,190.8 L385.5,193.0 L385.7,193.2 L385.9,192.1 L386.0,191.0 L386.2,193.3 L386.3,192.5 L386.5,195.9 L386.6,196.7 L386.8,196.8 L387.0,198.8 L387.1,199.0 L387.3,198.9 L387.4,195.5 L387.6,196.7 L387.7,196.3 L387.9,195.0 L388.1,195.2 L388.2,195.0 L388.4,194.1 L388.5,195.1 L388.7,194.1 L388.8,196.6 L389.0,197.1 L389.2,195.7 L389.3,193.7 L389.5,191.4 L389.6,190.6 L389.8,189.6 L389.9,187.7 L390.1,185.4 L390.3,180.4 L390.4,178.0 L390.6,172.3 L390.7,169.8 L390.9,168.8 L391.0,169.6 L391.2,172.0 L391.4,175.8 L391.5,176.7 L391.7,178.2 L391.8,178.3 L392.0,180.3 L392.1,178.9 L392.3,179.6 L392.4,178.2 L392.6,177.3 L392.8,174.5 L392.9,176.8 L393.1,178.8 L393.2,181.0 L393.4,185.6 L393.5,189.1 L393.7,191.5 L393.9,190.1 L394.0,188.5 L394.2,185.8 L394.3,185.6 L394.5,182.1 L394.6,178.3 L394.8,182.4 L395.0,185.2 L395.1,189.8 L395.3,195.0 L395.4,198.1 L395.6,202.8 L395.7,198.5 L395.9,195.2 L396.1,191.0 L396.2,185.1 L396.4,180.9 L396.5,176.4 L396.7,178.6 L396.8,180.9 L397.0,180.9 L397.2,180.6 L397.3,182.1 L397.5,183.9 L397.6,182.7 L397.8,184.3 L397.9,183.3 L398.1,186.2 L398.3,184.8 L398.4,185.8 L398.6,186.4 L398.7,187.2 L398.9,189.5 L399.0,190.5 L399.2,192.2 L399.4,191.5 L399.5,193.4 L399.7,193.7 L399.8,193.0 L400.0,196.4 L400.1,195.1 L400.3,195.2 L400.5,199.4 L400.6,202.4 L400.8,206.6 L400.9,209.8 L401.1,211.7 L401.2,216.0 L401.4,215.6 L401.6,216.9 L401.7,220.6 L401.9,223.0 L402.0,223.2 L402.2,225.4 L402.3,222.8 L402.5,221.4 L402.7,218.3 L402.8,213.7 L403.0,213.3 L403.1,206.5 L403.3,212.0 L403.4,214.2 L403.6,215.3 L403.8,219.5 L403.9,220.1 L404.1,221.6 L404.2,221.6 L404.4,221.2 L404.5,219.4 L404.7,216.0 L404.9,214.5 L405.0,214.1 L405.2,213.6 L405.3,213.6 L405.5,216.1 L405.6,215.3 L405.8,215.4 L406.0,217.8 L406.1,215.0 L406.3,214.8 L406.4,214.0 L406.6,214.2 L406.7,212.7 L406.9,212.2 L407.1,212.1 L407.2,211.0 L407.4,210.0 L407.5,208.5 L407.7,205.7 L407.8,206.5 L408.0,204.6 L408.2,204.6 L408.3,201.9 L408.5,201.3 L408.6,199.0 L408.8,197.1 L408.9,201.3 L409.1,202.0 L409.3,204.3 L409.4,207.8 L409.6,207.8 L409.7,210.3 L409.9,208.9 L410.0,209.4 L410.2,208.7 L410.4,207.0 L410.5,207.0 L410.7,206.5 L410.8,208.3 L411.0,209.9 L411.1,211.2 L411.3,212.1 L411.5,211.9 L411.6,216.0 L411.8,213.0 L411.9,211.4 L412.1,208.4 L412.2,208.8 L412.4,205.0 L412.6,202.8 L412.7,203.1 L412.9,201.5 L413.0,199.0 L413.2,197.7 L413.3,196.4 L413.5,195.2 L413.6,190.8 L413.8,187.0 L413.9,185.1 L414.1,183.9 L414.2,186.1 L414.4,190.5 L414.5,196.5 L414.7,200.8 L414.8,202.8 L415.0,203.5 L415.1,201.2 L415.2,202.3 L415.4,199.0 L415.5,200.4 L415.7,200.6 L415.8,203.2 L416.0,204.2 L416.2,202.7 L416.3,204.7 L416.5,203.8 L416.6,204.7 L416.8,204.1 L416.9,204.7 L417.1,205.1 L417.3,206.5 L417.4,209.0 L417.6,214.9 L417.7,216.7 L417.9,216.6 L418.0,219.7 L418.2,221.6 L418.4,217.0 L418.5,215.5 L418.7,212.0 L418.8,210.7 L419.0,207.8 L419.1,206.5 L419.3,203.7 L419.5,204.8 L419.6,204.7 L419.8,202.6 L419.9,202.3 L420.1,202.8 L420.2,204.4 L420.4,207.0 L420.6,208.9 L420.7,208.5 L420.9,210.9 L421.0,210.3 L421.2,209.6 L421.3,206.3 L421.5,204.9 L421.7,204.2 L421.8,201.2 L422.0,199.0 L422.1,199.6 L422.3,200.7 L422.4,199.4 L422.6,200.7 L422.8,201.3 L422.9,200.9 L423.1,202.7 L423.2,203.9 L423.4,203.4 L423.5,204.7 L423.7,205.5 L423.9,206.5 L424.0,203.5 L424.2,203.8 L424.3,202.6 L424.5,199.7 L424.6,197.6 L424.8,197.1 L425.0,196.6 L425.1,197.6 L425.3,198.2 L425.4,198.7 L425.6,201.6 L425.7,202.8 L425.9,200.6 L426.1,200.0 L426.2,201.2 L426.4,199.2 L426.5,200.1 L426.7,202.8 L426.8,202.2 L427.0,204.2 L427.2,203.9 L427.3,204.4 L427.5,208.3 L427.6,206.5 L427.8,206.9 L427.9,208.8 L428.1,209.7 L428.3,211.8 L428.4,210.6 L428.6,210.3 L428.7,211.1 L428.9,211.7 L429.0,212.4 L429.2,212.1 L429.4,214.9 L429.5,214.1 L429.7,217.6 L429.8,221.2 L429.9,222.8 L430.1,225.4 L430.2,223.3 L430.4,219.9 L430.5,213.8 L430.7,211.9 L430.8,206.5 L431.0,199.3 L431.1,194.2 L431.3,188.7 L431.4,182.0 L431.6,180.0 L431.7,180.4 L431.9,177.8 L432.0,176.9 L432.2,177.5 L432.3,176.4 L432.5,174.4 L432.7,171.4 L432.8,170.4 L433.0,170.4 L433.1,168.9 L433.3,167.9 L433.4,168.0 L433.6,171.1 L433.8,170.6 L433.9,172.4 L434.1,170.5 L434.2,170.7 L434.4,168.6 L434.5,168.3 L434.7,168.4 L434.8,168.7 L435.0,167.8 L435.2,168.8 L435.3,168.3 L435.5,170.5 L435.6,170.9 L435.8,171.9 L435.9,171.6 L436.1,174.5 L436.3,171.8 L436.4,174.0 L436.6,173.3 L436.7,171.9 L436.9,173.1 L437.0,172.6 L437.2,172.7 L437.4,176.1 L437.5,176.0 L437.7,176.5 L437.8,175.9 L438.0,176.4 L438.1,176.4 L438.3,177.8 L438.5,176.9 L438.6,176.8 L438.8,177.6 L438.9,180.2 L439.1,182.1 L439.2,181.8 L439.4,182.8 L439.6,185.9 L439.7,186.2 L439.9,189.6 L440.0,187.9 L440.2,188.1 L440.3,185.6 L440.5,185.4 L440.7,186.1 L440.8,183.9 L441.0,183.3 L441.1,181.7 L441.3,177.5 L441.4,178.6 L441.6,175.7 L441.8,172.6 L441.9,172.3 L442.1,173.8 L442.2,170.2 L442.4,171.8 L442.5,167.9 L442.7,168.8 L442.9,166.0 L443.0,166.7 L443.2,166.6 L443.3,166.1 L443.5,166.3 L443.6,163.2 L443.8,164.0 L444.0,165.8 L444.1,164.6 L444.3,166.4 L444.4,165.4 L444.6,167.0 L444.7,164.7 L444.9,162.2 L445.1,163.8 L445.2,161.1 L445.4,160.1 L445.5,161.3 L445.7,160.6 L445.8,162.5 L446.0,161.9 L446.2,163.1 L446.3,164.3 L446.5,167.0 L446.6,164.8 L446.8,165.0 L446.9,166.5 L447.1,168.1 L447.3,168.6 L447.4,170.7 L447.6,169.2 L447.7,171.5 L447.9,172.9 L448.0,173.4 L448.2,172.8 L448.4,172.6 L448.5,173.5 L448.7,177.3 L448.8,177.3 L449.0,176.9 L449.1,179.1 L449.3,178.3 L449.5,179.5 L449.6,180.1 L449.8,179.8 L449.9,181.1 L450.1,181.0 L450.2,183.9 L450.4,183.2 L450.6,184.3 L450.7,186.8 L450.9,188.4 L451.0,188.1 L451.2,191.5 L451.3,187.6 L451.5,186.7 L451.7,186.9 L451.8,184.3 L452.0,182.0 L452.1,182.0 L452.3,180.7 L452.4,177.0 L452.6,173.3 L452.8,172.8 L452.9,169.3 L453.1,165.1 L453.2,167.9 L453.4,168.3 L453.5,168.6 L453.7,169.1 L453.9,167.8 L454.0,167.0 L454.2,169.9 L454.3,169.6 L454.5,170.6 L454.6,169.8 L454.8,171.5 L454.9,170.7 L455.1,169.6 L455.3,171.2 L455.4,168.3 L455.6,168.4 L455.7,168.2 L455.9,167.0 L456.0,167.7 L456.2,168.3 L456.4,167.8 L456.5,167.9 L456.7,171.8 L456.8,172.6 L457.0,170.9 L457.1,172.5 L457.3,170.8 L457.5,170.3 L457.6,170.1 L457.8,170.7 L457.9,170.4 L458.1,171.9 L458.2,172.5 L458.4,172.5 L458.6,174.8 L458.7,176.4 L458.9,174.8 L459.0,177.0 L459.2,174.7 L459.3,174.9 L459.5,175.3 L459.7,174.5 L459.8,175.0 L460.0,177.1 L460.1,177.1 L460.3,176.0 L460.4,176.6 L460.6,178.3 L460.8,176.9 L460.9,175.5 L461.1,175.3 L461.2,173.8 L461.4,174.0 L461.5,174.5 L461.7,174.1 L461.9,176.1 L462.0,175.6 L462.2,178.1 L462.3,177.4 L462.5,178.3 L462.6,179.2 L462.8,178.7 L463.0,180.4 L463.1,177.5 L463.3,177.7 L463.4,180.2 L463.6,178.6 L463.7,180.7 L463.9,181.9 L464.1,181.6 L464.2,183.7 L464.4,183.9 L464.5,187.2 L464.7,186.5 L464.8,187.4 L465.0,190.5 L465.2,189.1 L465.3,189.6 L465.5,190.7 L465.6,191.4 L465.8,193.7 L465.9,192.6 L466.1,193.2 L466.3,191.5 L466.4,195.7 L466.6,198.8 L466.7,198.2 L466.9,200.7 L467.0,203.3 L467.2,206.5 L467.4,205.0 L467.5,202.1 L467.7,201.6 L467.8,200.6 L468.0,197.6 L468.1,197.1 L468.3,196.0 L468.5,194.3 L468.6,195.9 L468.8,192.3 L468.9,191.8 L469.1,191.5 L469.2,193.6 L469.4,193.7 L469.6,196.1 L469.7,196.7 L469.9,200.0 L470.0,199.0 L470.2,199.7 L470.3,198.4 L470.5,197.3 L470.7,197.6 L470.8,197.4 L471.0,193.3 L471.1,196.4 L471.3,196.7 L471.4,196.5 L471.6,198.1 L471.8,196.8 L471.9,197.1 L472.1,196.2 L472.2,196.2 L472.4,194.4 L472.5,192.3 L472.7,192.9 L472.9,191.5 L473.0,194.5 L473.2,195.1 L473.3,197.5 L473.5,200.2 L473.6,200.3 L473.8,200.9 L474.0,197.7 L474.1,194.4 L474.3,189.2 L474.4,186.4 L474.6,185.2 L474.7,180.2 L474.9,182.2 L475.1,186.5 L475.2,186.7 L475.4,190.3 L475.5,193.5 L475.7,195.2 L475.8,196.3 L476.0,198.9 L476.1,199.5 L476.3,197.5 L476.5,196.9 L476.6,199.0 L476.8,196.7 L476.9,193.8 L477.1,191.2 L477.2,188.7 L477.4,187.3 L477.6,187.7 L477.7,189.8 L477.9,191.4 L478.0,191.7 L478.2,192.2 L478.3,192.9 L478.5,193.3 L478.7,194.8 L478.8,195.8 L479.0,197.2 L479.1,197.4 L479.3,197.9 L479.4,199.0 L479.6,197.6 L479.8,198.2 L479.9,198.4 L480.1,195.6 L480.2,196.7 L480.4,195.2 L480.5,194.8 L480.7,192.6 L480.9,191.3 L481.0,192.4 L481.2,189.4 L481.3,189.6 L481.5,189.5 L481.6,190.4 L481.8,193.6 L482.0,193.3 L482.1,193.2 L482.3,197.1 L482.4,196.5 L482.6,199.1 L482.7,200.8 L482.9,201.7 L483.1,205.7 L483.2,206.5 L483.4,204.6 L483.5,200.3 L483.7,197.5 L483.8,194.4 L484.0,190.7 L484.2,191.5 L484.3,191.0 L484.5,191.6 L484.6,194.5 L484.8,196.7 L484.9,196.8 L485.1,199.0 L485.3,196.9 L485.4,195.7 L485.6,194.6 L485.7,191.9 L485.9,191.5 L486.0,189.6 L486.2,190.8 L486.4,191.3 L486.5,194.5 L486.7,195.2 L486.8,195.6 L487.0,197.1 L487.1,196.3 L487.3,199.0 L487.5,198.7 L487.6,201.0 L487.8,201.0 L487.9,200.9 L488.1,199.8 L488.2,200.5 L488.4,199.1 L488.6,197.5 L488.7,197.9 L488.9,193.3 L489.0,194.6 L489.2,193.5 L489.3,192.7 L489.5,193.9 L489.6,192.3 L489.8,190.8 L489.9,189.4 L490.1,190.4 L490.2,187.8 L490.4,188.4 L490.5,187.5 L490.7,187.7 L490.8,189.5 L491.0,189.9 L491.1,194.2 L491.3,195.4 L491.4,198.1 L491.6,197.1 L491.8,198.3 L491.9,195.1 L492.1,193.8 L492.2,194.0 L492.4,190.6 L492.5,189.6 L492.7,188.3 L492.9,188.3 L493.0,189.9 L493.2,189.3 L493.3,191.9 L493.5,193.3 L493.6,191.3 L493.8,193.7 L494.0,195.8 L494.1,196.7 L494.3,198.2 L494.4,199.0 L494.6,198.7 L494.7,199.6 L494.9,200.0 L495.1,199.9 L495.2,199.3 L495.4,200.9 L495.5,199.7 L495.7,200.9 L495.8,200.7 L496.0,202.0 L496.1,204.1 L496.3,206.5 L496.5,206.0 L496.6,206.6 L496.8,206.4 L496.9,209.7 L497.1,208.5 L497.2,208.4 L497.4,209.0 L497.6,208.0 L497.7,207.9 L497.9,207.1 L498.0,206.1 L498.2,202.8 L498.3,202.1 L498.5,201.6 L498.7,198.8 L498.8,198.7 L499.0,197.8 L499.1,197.1 L499.3,198.8 L499.4,195.9 L499.6,195.3 L499.8,195.8 L499.9,193.1 L500.1,191.5 L500.2,190.7 L500.4,190.8 L500.5,190.0 L500.7,188.8 L500.9,187.0 L501.0,187.7 L501.2,184.8 L501.3,183.4 L501.5,182.8 L501.6,183.5 L501.8,182.4 L502.0,182.0 L502.1,182.3 L502.3,184.5 L502.4,183.8 L502.6,181.7 L502.7,181.6 L502.9,180.2 L503.1,180.5 L503.2,181.3 L503.4,184.1 L503.5,186.6 L503.7,185.2 L503.8,185.8 L504.0,187.3 L504.2,187.5 L504.3,184.3 L504.5,185.2 L504.6,183.4 L504.8,182.0 L504.9,184.9 L505.1,186.0 L505.3,187.2 L505.4,187.8 L505.6,186.7 L505.7,187.7 L505.9,189.8 L506.0,189.8 L506.2,189.3 L506.4,189.3 L506.5,190.4 L506.7,191.5 L506.8,191.1 L507.0,191.8 L507.1,194.1 L507.3,192.7 L507.5,195.3 L507.6,193.3 L507.8,194.3 L507.9,196.4 L508.1,196.1 L508.2,196.3 L508.4,197.0 L508.6,195.2 L508.7,195.7 L508.9,195.2 L509.0,195.1 L509.2,193.8 L509.3,195.0 L509.5,191.5 L509.7,194.2 L509.8,194.6 L510.0,195.4 L510.1,194.3 L510.3,194.4 L510.4,197.1 L510.6,194.5 L510.8,195.6 L510.9,193.2 L511.1,193.3 L511.2,190.0 L511.4,187.7 L511.5,187.5 L511.7,187.4 L511.9,187.2 L512.0,185.0 L512.2,184.3 L512.3,183.9 L512.5,181.3 L512.6,179.4 L512.8,179.8 L513.0,178.2 L513.1,175.4 L513.3,176.4 L513.4,173.4 L513.6,175.9 L513.7,174.9 L513.9,176.0 L514.1,175.4 L514.2,178.3 L514.4,174.1 L514.5,175.5 L514.7,173.0 L514.8,174.9 L515.0,172.1 L515.2,174.5 L515.3,173.8 L515.5,174.4 L515.6,176.8 L515.8,179.7 L515.9,179.5 L516.1,183.9 L516.2,180.5 L516.4,179.6 L516.6,178.8 L516.7,179.9 L516.9,178.7 L517.0,180.2 L517.2,181.6 L517.3,182.9 L517.5,183.9 L517.7,186.6 L517.8,188.2 L518.0,187.7 L518.1,186.9 L518.3,187.5 L518.4,186.4 L518.6,183.8 L518.8,184.5 L518.9,182.0 L519.1,181.7 L519.2,184.1 L519.4,185.3 L519.5,185.0 L519.7,185.7 L519.9,185.8 L520.0,186.9 L520.2,187.0 L520.3,187.2 L520.5,189.2 L520.6,190.1 L520.8,191.5 L521.0,193.9 L521.1,195.2 L521.3,196.1 L521.4,194.8 L521.6,197.2 L521.7,197.1 L521.9,195.9 L522.1,191.6 L522.2,191.7 L522.4,189.0 L522.5,187.5 L522.7,187.7 L522.8,186.0 L523.0,185.8 L523.2,183.2 L523.3,182.7 L523.5,182.1 L523.6,180.2 L523.8,181.0 L523.9,178.8 L524.1,178.0 L524.3,176.6 L524.4,176.6 L524.6,176.4 L524.7,176.7 L524.9,173.4 L525.0,174.3 L525.2,173.2 L525.4,173.0 L525.5,172.6 L525.7,173.1 L525.8,172.5 L526.0,174.9 L526.1,178.0 L526.3,179.0 L526.5,178.3 L526.6,182.2 L526.8,180.5 L526.9,183.7 L527.1,183.2 L527.2,185.2 L527.4,183.9 L527.6,186.3 L527.7,186.5 L527.9,188.0 L528.0,187.4 L528.2,191.1 L528.3,191.5 L528.5,192.5 L528.7,192.5 L528.8,193.1 L529.0,194.0 L529.1,193.8 L529.3,195.2 L529.4,192.8 L529.6,192.9 L529.8,192.8 L529.9,191.3 L530.1,190.0 L530.2,187.7 L530.4,187.6 L530.5,188.7 L530.7,189.3 L530.9,190.8 L531.0,192.5 L531.2,191.5 L531.3,190.4 L531.5,188.7 L531.6,186.6 L531.8,184.3 L532.0,183.0 L532.1,183.9 L532.3,183.2 L532.4,182.4 L532.6,181.1 L532.7,180.7 L532.9,179.1 L533.1,182.0 L533.2,177.9 L533.4,177.4 L533.5,177.0 L533.7,177.1 L533.8,179.3 L534.0,178.3 L534.2,177.5 L534.3,176.1 L534.5,175.2 L534.6,174.4 L534.8,172.9 L534.9,172.6 L535.1,172.4 L535.3,173.7 L535.4,173.8 L535.6,175.1 L535.7,177.8 L535.9,180.2 L536.0,179.4 L536.2,181.0 L536.4,184.4 L536.5,184.2 L536.7,186.2 L536.8,187.7 L537.0,185.3 L537.1,185.7 L537.3,182.8 L537.4,182.9 L537.6,184.1 L537.8,183.9 L537.9,183.0 L538.1,185.3 L538.2,185.3 L538.4,186.2 L538.5,188.4 L538.7,191.5 L538.9,191.2 L539.0,191.5 L539.2,194.7 L539.3,196.1 L539.5,197.7 L539.6,200.9 L539.8,201.8 L540.0,203.4 L540.1,202.8 L540.3,203.2 L540.4,205.3 L540.6,206.5 L540.7,205.2 L540.9,203.6 L541.1,203.1 L541.2,201.6 L541.4,202.0 L541.5,202.8 L541.7,198.8 L541.8,197.6 L542.0,194.2 L542.2,191.6 L542.3,192.2 L542.5,191.5 L542.6,189.0 L542.8,189.1 L542.9,188.4 L543.1,187.9 L543.3,186.1 L543.4,187.7 L543.6,186.4 L543.7,185.3 L543.9,184.3 L544.0,183.3 L544.2,182.7 L544.4,183.9 L544.5,182.4 L544.7,181.6 L544.8,180.7 L545.0,180.5 L545.1,180.5 L545.3,180.2 L545.5,176.8 L545.6,175.8 L545.8,172.5 L545.9,173.3 L546.1,171.5 L546.2,172.6 L546.4,170.9 L546.6,169.7 L546.7,170.6 L546.9,170.3 L547.0,171.2 L547.2,170.7 L547.3,171.2 L547.5,173.3 L547.7,174.3 L547.8,174.2 L548.0,175.0 L548.1,176.4 L548.3,177.5 L548.4,177.8 L548.6,180.1 L548.8,180.8 L548.9,180.4 L549.1,180.2 L549.2,181.5 L549.4,179.8 L549.5,182.3 L549.7,181.5 L549.9,179.7 L550.0,183.9 L550.2,182.9 L550.3,187.9 L550.5,190.2 L550.6,192.2 L550.8,194.1 L551.0,197.1 L551.1,196.5 L551.3,197.8 L551.4,199.7 L551.6,199.5 L551.7,198.3 L551.9,200.9 L552.1,196.5 L552.2,193.6 L552.4,193.4 L552.5,190.8 L552.7,189.2 L552.8,187.7 L553.0,187.5 L553.2,188.3 L553.3,188.7 L553.5,190.5 L553.6,190.7 L553.8,189.6 L553.9,187.3 L554.1,183.9 L554.3,181.9 L554.4,179.1 L554.6,175.1 L554.7,174.5 L554.9,172.7 L555.0,170.1 L555.2,168.9 L555.4,169.6 L555.5,166.9 L555.7,168.8 L555.8,165.7 L556.0,167.8 L556.1,165.7 L556.3,164.5 L556.5,164.4 L556.6,163.2 L556.8,164.5 L556.9,163.9 L557.1,166.2 L557.2,165.7 L557.4,169.7 L557.6,170.7 L557.7,171.6 L557.9,173.2 L558.0,173.6 L558.2,174.8 L558.3,176.8 L558.5,178.3 L558.6,178.3 L558.8,181.2 L559.0,183.6 L559.1,182.8 L559.3,185.6 L559.4,187.7 L559.6,186.9 L559.7,187.4 L559.9,188.4 L560.1,188.1 L560.2,189.7 L560.4,191.5 L560.5,188.5 L560.7,190.3 L560.8,190.7 L561.0,190.7 L561.2,191.7 L561.3,193.3 L561.5,194.4 L561.6,193.0 L561.8,191.2 L561.9,189.9 L562.1,189.5 L562.3,187.7 L562.4,188.1 L562.6,187.8 L562.7,191.4 L562.9,192.5 L563.0,193.7 L563.2,193.3 L563.4,196.3 L563.5,197.0 L563.7,196.6 L563.8,199.2 L564.0,199.1 L564.1,199.0 L564.3,197.2 L564.5,198.9 L564.6,197.6 L564.8,196.3 L564.9,198.5 L565.1,195.2 L565.2,195.2 L565.4,194.0 L565.6,191.2 L565.7,190.6 L565.9,188.9 L566.0,187.7 L566.2,186.0 L566.3,184.8 L566.5,183.0 L566.7,180.7 L566.8,178.3 L567.0,178.3 L567.1,177.7 L567.3,174.9 L567.4,174.6 L567.6,174.7 L567.8,173.5 L567.9,174.5 L568.1,171.8 L568.2,168.8 L568.4,167.5 L568.5,165.1 L568.7,164.6 L568.9,161.3 L569.0,162.9 L569.2,165.4 L569.3,164.5 L569.5,165.1 L569.6,167.4 L569.8,167.0 L570.0,167.2 L570.1,169.9 L570.3,169.6 L570.4,169.1 L570.6,171.5 L570.7,172.6 L570.9,173.5 L571.1,171.8 L571.2,173.0 L571.4,173.3 L571.5,175.1 L571.7,176.4 L571.8,177.5 L572.0,175.9 L572.2,178.0 L572.3,180.5 L572.5,180.3 L572.6,180.2 L572.8,183.0 L572.9,184.7 L573.1,184.6 L573.3,186.2 L573.4,189.8 L573.6,187.7 L573.7,189.5 L573.9,190.0 L574.0,190.6 L574.2,191.4 L574.4,192.0 L574.5,191.5 L574.7,187.8 L574.8,187.7 L575.0,184.0 L575.1,184.0 L575.3,183.6 L575.5,183.9 L575.6,183.2 L575.8,184.8 L575.9,188.2 L576.1,189.6 L576.2,192.2 L576.4,195.2 L576.6,191.9 L576.7,190.0 L576.9,189.9 L577.0,188.1 L577.2,185.5 L577.3,187.7 L577.5,183.2 L577.7,184.1 L577.8,181.7 L578.0,178.2 L578.1,178.6 L578.3,178.3 L578.4,176.5 L578.6,174.0 L578.8,176.4 L578.9,173.6 L579.1,174.3 L579.2,176.4 L579.4,175.6 L579.5,175.9 L579.7,176.8 L579.8,178.6 L580.0,180.6 L580.2,182.0 L580.3,182.3 L580.5,181.4 L580.6,180.7 L580.8,179.1 L580.9,177.1 L581.1,174.5 L581.3,176.6 L581.4,179.0 L581.6,179.0 L581.7,177.2 L581.9,178.6 L582.0,178.3 L582.2,176.2 L582.4,174.7 L582.5,176.2 L582.7,177.7 L582.8,176.8 L583.0,175.4 L583.1,179.6 L583.3,180.5 L583.5,180.9 L583.6,179.9 L583.8,182.2 L583.9,181.1 L584.1,179.0 L584.2,179.7 L584.4,177.9 L584.6,178.4 L584.7,179.4 L584.9,176.4 L585.0,180.2 L585.2,182.1 L585.3,182.1 L585.5,183.4 L585.7,183.7 L585.8,183.9 L586.0,187.6 L586.1,190.5 L586.3,190.4 L586.4,193.5 L586.6,193.5 L586.8,193.3 L586.9,193.7 L587.1,188.9 L587.2,188.2 L587.4,182.6 L587.5,179.5 L587.7,180.2 L587.9,177.6 L588.0,177.8 L588.2,177.2 L588.3,175.9 L588.5,176.5 L588.6,176.4 L588.8,174.5 L589.0,174.8 L589.1,174.7 L589.3,174.5 L589.4,173.9 L589.6,174.5 L589.7,174.0 L589.9,174.7 L590.1,174.6 L590.2,173.4 L590.4,174.0 L590.5,170.7 L590.7,170.8 L590.8,171.2 L591.0,167.7 L591.2,168.9 L591.3,168.2 L591.5,168.8 L591.6,168.6 L591.8,170.2 L591.9,172.7 L592.1,171.6 L592.3,173.0 L592.4,176.4 L592.6,177.1 L592.7,178.9 L592.9,179.5 L593.0,180.5 L593.2,180.7 L593.4,180.2 L593.5,181.1 L593.7,182.6 L593.8,180.4 L594.0,182.5 L594.1,181.9 L594.3,185.8 L594.5,185.9 L594.6,184.7 L594.8,186.9 L594.9,185.9 L595.1,187.2 L595.2,187.7 L595.4,187.6 L595.6,189.5 L595.7,188.7 L595.9,189.5 L596.0,190.4 L596.2,191.5 L596.3,191.2 L596.5,193.9 L596.7,192.8 L596.8,192.8 L597.0,193.5 L597.1,193.3 L597.3,194.8 L597.4,194.7 L597.6,193.0 L597.8,192.5 L597.9,188.7 L598.1,187.7 L598.2,187.7 L598.4,186.1 L598.5,183.4 L598.7,182.9 L598.9,183.8 L599.0,183.9 L599.2,185.4 L599.3,187.4 L599.5,189.6 L599.6,189.4 L599.8,190.7 L599.9,191.5 L600.1,192.8 L600.3,192.9 L600.4,194.5 L600.6,195.7 L600.7,195.4 L600.9,195.2 L601.0,194.9 L601.2,195.8 L601.4,192.6 L601.5,193.8 L601.7,191.8 L601.8,189.6 L602.0,189.8 L602.1,189.7 L602.3,193.2 L602.5,191.7 L602.6,194.9 L602.8,193.3 L602.9,195.8 L603.1,196.5 L603.2,194.8 L603.4,196.2 L603.6,194.6 L603.7,195.2 L603.9,194.6 L604.0,195.3 L604.2,194.0 L604.3,192.4 L604.5,192.4 L604.7,193.3 L604.8,192.9 L605.0,194.3 L605.1,194.4 L605.3,193.3 L605.4,194.0 L605.6,195.2 L605.8,192.6 L605.9,192.6 L606.1,191.6 L606.2,193.1 L606.4,190.9 L606.5,189.6 L606.7,190.0 L606.9,190.3 L607.0,188.5 L607.2,187.6 L607.3,188.0 L607.5,187.7 L607.6,189.7 L607.8,189.3 L608.0,190.2 L608.1,191.2 L608.3,193.2 L608.4,195.2 L608.6,194.5 L608.7,196.4 L608.9,197.5 L609.1,197.3 L609.2,199.3 L609.4,202.8 L609.5,203.4 L609.7,202.7 L609.8,205.4 L610.0,204.5 L610.2,206.9 L610.3,206.5 L610.5,208.2 L610.6,209.7 L610.8,208.6 L610.9,209.8 L611.1,211.5 L611.3,212.2 L611.4,215.6 L611.5,215.8 L611.7,218.4 L611.8,217.8 L612.0,216.4 L612.1,214.9 L612.3,209.2 L612.4,208.7 L612.6,204.7 L612.7,204.6 L612.9,205.2 L613.0,207.0 L613.1,208.4 L613.3,206.9 L613.5,207.8 L613.6,206.7 L613.8,205.2 L613.9,202.6 L614.1,202.8 L614.2,200.1 L614.4,199.5 L614.6,197.9 L614.7,196.4 L614.9,195.9 L615.0,197.1 L615.2,197.7 L615.3,199.9 L615.5,201.4 L615.7,203.7 L615.8,206.6 L616.0,206.5 L616.1,207.2 L616.3,206.5 L616.4,207.6 L616.6,208.1 L616.8,206.6 L616.9,210.3 L617.1,207.0 L617.2,207.3 L617.4,207.4 L617.5,208.1 L617.7,204.5 L617.9,204.7 L618.0,206.4 L618.2,207.3 L618.3,206.2 L618.5,208.0 L618.6,208.5 L618.8,206.5 L619.0,205.1 L619.1,205.5 L619.3,203.4 L619.4,202.5 L619.6,198.9 L619.7,199.0 L619.9,196.8 L620.1,193.1 L620.2,191.8 L620.4,191.9 L620.5,190.5 L620.7,191.5 L620.8,188.5 L621.0,186.7 L621.1,188.3 L621.3,185.9 L621.5,185.4 L621.6,183.9 L621.8,183.6 L621.9,184.3 L622.1,180.7 L622.2,181.6 L622.4,177.9 L622.6,176.4 L622.7,177.7 L622.9,175.8 L623.0,175.9 L623.2,174.4 L623.3,175.7 L623.5,172.6 L623.7,172.9 L623.8,173.9 L624.0,172.7 L624.1,172.6 L624.3,172.1 L624.4,167.9 L624.6,170.9 L624.8,168.8 L624.9,170.5 L625.1,168.1 L625.2,170.0 L625.4,168.8 L625.5,170.6 L625.7,169.3 L625.9,170.0 L626.0,173.4 L626.2,173.0 L626.3,172.6 L626.5,174.8 L626.6,174.8 L626.8,174.7 L627.0,172.9 L627.1,173.5 L627.3,170.7 L627.4,174.4 L627.6,175.2 L627.7,175.2 L627.9,178.1 L628.1,177.8 L628.2,180.2 L628.4,181.2 L628.5,180.3 L628.7,181.2 L628.8,180.5 L629.0,181.4 L629.2,183.9 L629.3,184.5 L629.5,183.1 L629.6,184.0 L629.8,183.2 L629.9,184.0 L630.1,185.8 L630.3,184.6 L630.4,184.2 L630.6,185.5 L630.7,187.3 L630.9,186.6 L631.0,188.6 L631.2,189.6 L631.4,186.7 L631.5,187.9 L631.7,188.6 L631.8,187.6 L632.0,183.9 L632.1,182.9 L632.3,181.4 L632.5,181.8 L632.6,179.5 L632.8,177.7 L632.9,180.2 L633.1,177.4 L633.2,178.8 L633.4,176.7 L633.6,177.2 L633.7,178.4 L633.9,176.4 L634.0,174.3 L634.2,175.2 L634.3,171.7 L634.5,171.3 L634.6,170.2 L634.8,171.6 L634.9,170.5 L635.1,170.5 L635.2,170.1 L635.4,169.2 L635.5,167.1 L635.7,169.6 L635.8,168.3 L636.0,167.2 L636.1,169.7 L636.3,168.7 L636.4,168.3 L636.6,167.7 L636.8,168.3 L636.9,167.9 L637.1,166.0 L637.2,164.7 L637.4,165.7 L637.5,165.8 L637.7,164.8 L637.9,162.6 L638.0,163.0 L638.2,164.2 L638.3,164.3 L638.5,164.9 L638.6,164.6 L638.8,163.8 L639.0,163.4 L639.1,166.4 L639.3,165.3 L639.4,167.7 L639.6,168.2 L639.7,168.3 L639.9,170.4 L640.1,169.3 L640.2,169.5 L640.4,169.6 L640.5,171.5 L640.7,171.4 L640.8,172.3 L641.0,169.5 L641.1,169.3 L641.3,171.5 L641.5,169.9 L641.6,168.6 L641.8,169.3 L641.9,167.9 L642.1,166.5 L642.2,169.6 L642.4,168.8 L642.6,169.3 L642.7,172.4 L642.9,174.0 L643.0,175.8 L643.2,175.2 L643.3,176.5 L643.5,179.1 L643.7,177.9 L643.8,180.2 L644.0,177.7 L644.1,179.0 L644.3,177.5 L644.4,176.4 L644.6,174.2 L644.8,174.7 L644.9,172.7 L645.1,173.3 L645.2,172.8 L645.4,174.2 L645.5,174.1 L645.7,175.7 L645.9,176.9 L646.0,177.1 L646.2,177.7 L646.3,175.6 L646.5,176.3 L646.6,176.9 L646.8,175.8 L647.0,175.2 L647.1,177.0 L647.3,178.0 L647.4,180.2 L647.6,179.6 L647.7,181.6 L647.9,180.9 L648.1,179.2 L648.2,178.6 L648.4,177.4 L648.5,176.2 L648.7,174.9 L648.8,173.3 L649.0,175.3 L649.2,177.3 L649.3,177.5 L649.5,179.3 L649.6,177.9 L649.8,179.0 L649.9,177.1 L650.1,175.3 L650.3,174.5 L650.4,171.8 L650.6,172.3 L650.7,171.5 L650.9,170.2 L651.0,169.7 L651.2,171.7 L651.4,172.1 L651.5,172.0 L651.7,175.2 L651.8,173.5 L652.0,175.1 L652.1,176.6 L652.3,176.0 L652.5,175.5 L652.6,179.0 L652.8,177.2 L652.9,179.4 L653.1,180.4 L653.2,182.3 L653.4,183.7 L653.6,182.8 L653.7,181.6 L653.9,179.6 L654.0,180.3 L654.2,178.8 L654.3,176.7 L654.5,177.1 L654.7,177.5 L654.8,177.6 L655.0,179.3 L655.1,179.5 L655.3,181.9 L655.4,184.7 L655.6,183.8 L655.8,182.7 L655.9,182.2 L656.1,181.0 L656.2,178.2 L656.4,175.2 L656.5,175.4 L656.7,173.7 L656.9,169.8 L657.0,167.7 L657.2,166.6 L657.3,167.7 L657.5,167.6 L657.6,168.4 L657.8,169.4 L658.0,169.7 L658.1,169.8 L658.3,169.6 L658.4,168.5 L658.6,170.5 L658.7,167.4 L658.9,167.4 L659.1,170.8 L659.2,171.5 L659.4,170.8 L659.5,172.9 L659.7,172.6 L659.8,172.1 L660.0,172.6 L660.2,175.2 L660.3,176.7 L660.5,175.1 L660.6,177.5 L660.8,178.7 L660.9,181.7 L661.1,182.8 L661.2,185.1 L661.4,188.9 L661.6,189.2 L661.7,191.9 L661.9,194.9 L662.0,194.1 L662.2,193.5 L662.3,193.0 L662.5,188.6 L662.7,189.6 L662.8,186.6 L663.0,184.7 L663.1,185.9 L663.3,184.1 L663.4,181.9 L663.6,182.6 L663.8,180.0 L663.9,179.0 L664.1,181.6 L664.2,183.6 L664.4,183.3 L664.5,184.3 L664.7,188.0 L664.9,186.5 L665.0,186.9 L665.2,187.8 L665.3,185.8 L665.5,183.9 L665.6,184.8 L665.8,182.8 L666.0,181.4 L666.1,180.8 L666.3,182.6 L666.4,182.8 L666.6,180.8 L666.7,180.9 L666.9,182.5 L667.1,179.5 L667.2,181.1 L667.4,180.0 L667.5,178.5 L667.7,179.0 L667.8,179.3 L668.0,179.7 L668.2,181.4 L668.3,181.3 L668.5,181.9 L668.6,184.7 L668.8,182.6 L668.9,181.3 L669.1,180.2 L669.3,181.2 L669.4,182.0 L669.6,179.0 L669.7,178.2 L669.9,176.5 L670.0,176.7 L670.2,172.6 L670.4,173.2 L670.5,169.6 L670.7,170.3 L670.8,170.9 L671.0,173.2 L671.1,174.6 L671.3,174.1 L671.5,173.3 L671.6,174.2 L671.8,173.8 L671.9,173.5 L672.1,175.7 L672.2,175.9 L672.4,177.1 L672.6,177.1 L672.7,179.4 L672.9,182.2 L673.0,183.9 L673.2,185.7 L673.3,186.5 L673.5,186.9 L673.7,183.9 L673.8,185.1 L674.0,183.0 L674.1,181.1 L674.3,180.9 L674.4,182.4 L674.6,182.1 L674.8,183.3 L674.9,185.4 L675.1,185.9 L675.2,184.7 L675.4,183.8 L675.5,182.8 L675.7,181.5 L675.9,178.5 L676.0,176.6 L676.2,179.0 L676.3,180.0 L676.5,178.9 L676.6,181.6 L676.8,182.0 L677.0,184.7 L677.1,186.5 L677.3,187.9 L677.4,186.7 L677.6,189.2 L677.7,189.8 L677.9,191.2 L678.1,192.2 L678.2,189.9 L678.4,186.6 L678.5,182.2 L678.7,181.0 L678.8,179.5 L679.0,179.0 L679.2,177.0 L679.3,179.2 L679.5,177.8 L679.6,177.7 L679.8,177.1 L679.9,177.1 L680.1,177.8 L680.3,178.5 L680.4,176.2 L680.6,176.8 L680.7,175.6 L680.9,175.2 L681.0,173.4 L681.2,173.5 L681.4,173.4 L681.5,172.9 L681.7,173.7 L681.8,171.5 L682.0,172.2 L682.1,172.8 L682.3,172.0 L682.4,171.5 L682.6,171.8 L682.8,169.6 L682.9,172.8 L683.1,174.0 L683.2,174.0 L683.4,175.1 L683.5,178.1 L683.7,179.0 L683.9,177.7 L684.0,179.7 L684.2,182.4 L684.3,182.2 L684.5,184.2 L684.6,186.5 L684.8,185.9 L685.0,187.7 L685.1,189.5 L685.3,188.4 L685.4,190.6 L685.6,190.3 L685.7,194.4 L685.9,193.5 L686.1,195.2 L686.2,193.1 L686.4,193.8 L686.5,194.1 L686.7,191.0 L686.8,191.9 L687.0,189.6 L687.2,189.4 L687.3,187.8 L687.5,186.5 L687.6,186.3 L687.8,188.7 L687.9,187.0 L688.1,190.2 L688.3,190.4 L688.4,192.2 L688.6,187.8 L688.7,187.3 L688.9,185.2 L689.0,184.1 L689.2,184.1 L689.4,182.8 L689.5,182.4 L689.7,184.0 L689.8,183.6 L690.0,184.8 L690.1,187.3 L690.3,190.3 L690.5,188.4 L690.6,190.0 L690.8,189.0 L690.9,190.0 L691.1,189.1 L691.2,186.5 L691.4,188.3 L691.6,184.7 L691.7,182.0 L691.9,182.5 L692.0,180.4 L692.2,177.1 L692.3,177.0 L692.5,176.5 L692.7,176.8 L692.8,177.6 L693.0,176.4 L693.1,173.3 L693.3,174.6 L693.4,174.5 L693.6,173.3 L693.8,173.0 L693.9,171.8 L694.1,169.6 L694.2,172.9 L694.4,171.5 L694.5,173.6 L694.7,172.9 L694.9,173.9 L695.0,175.2 L695.2,179.2 L695.3,181.6 L695.5,182.8 L695.6,186.3 L695.8,187.3 L696.0,186.5 L696.1,189.5 L696.3,190.9 L696.4,190.4 L696.6,191.8 L696.7,195.2 L696.9,196.0 L697.1,193.9 L697.2,194.0 L697.4,190.2 L697.5,188.7 L697.7,187.4 L697.8,186.5 L698.0,188.3 L698.2,187.0 L698.3,186.0 L698.5,185.0 L698.6,185.9 L698.8,182.8 L698.9,182.9 L699.1,184.8 L699.3,182.0 L699.4,183.2 L699.6,182.9 L699.7,179.0 L699.9,180.0 L700.0,180.3 L700.2,180.0 L700.4,178.3 L700.5,177.1 L700.7,175.2 L700.8,176.7 L701.0,174.1 L701.1,174.5 L701.3,172.7 L701.5,174.4 L701.6,173.3 L701.8,175.2 L701.9,173.1 L702.1,173.4 L702.2,171.2 L702.4,170.4 L702.6,169.6 L702.7,169.5 L702.9,170.9 L703.0,169.9 L703.2,169.9 L703.3,172.3 L703.5,171.5 L703.6,172.8 L703.8,172.5 L704.0,171.1 L704.1,169.5 L704.3,169.8 L704.4,165.8 L704.6,167.6 L704.7,167.7 L704.9,167.2 L705.1,166.6 L705.2,166.8 L705.4,167.7 L705.5,168.3 L705.7,168.5 L705.8,170.2 L706.0,171.1 L706.2,172.7 L706.3,173.3 L706.5,176.4 L706.6,177.0 L706.8,174.2 L706.9,175.5 L707.1,175.9 L707.3,175.2 L707.4,174.3 L707.6,175.9 L707.7,174.3 L707.9,176.7 L708.0,175.2 L708.2,179.0 L708.4,177.2 L708.5,178.4 L708.7,179.6 L708.8,183.4 L709.0,183.7 L709.1,184.7 L709.3,187.7 L709.5,190.9 L709.6,191.6 L709.8,195.5 L709.9,195.6 L710.1,199.7 L710.2,198.1 L710.4,195.8 L710.6,192.7 L710.7,192.0 L710.9,189.7 L711.0,186.5 L711.2,189.1 L711.3,188.2 L711.5,189.6 L711.7,190.3 L711.8,191.8 L712.0,192.2 L712.1,190.7 L712.3,189.5 L712.4,185.8 L712.6,184.4 L712.8,181.4 L712.9,182.8 L713.1,180.1 L713.2,178.3 L713.4,179.1 L713.5,178.7 L713.7,178.0 L713.9,175.2 L714.0,175.8 L714.2,173.4 L714.3,171.3 L714.5,172.0 L714.6,169.1 L714.8,169.6 L715.0,168.4 L715.1,170.2 L715.3,171.5 L715.4,171.0 L715.6,171.5 L715.7,173.3 L715.9,172.5 L716.1,174.8 L716.2,175.1 L716.4,177.2 L716.5,176.5 L716.7,179.0 L716.8,179.9 L717.0,179.1 L717.2,180.0 L717.3,180.4 L717.5,182.3 L717.6,180.9 L717.8,183.8 L717.9,183.9 L718.1,186.0 L718.3,186.7 L718.4,187.4 L718.6,186.5 L718.7,186.2 L718.9,184.6 L719.0,183.5 L719.2,183.7 L719.4,181.4 L719.5,182.8 L719.7,181.2 L719.8,184.3 L720.0,184.9 L720.1,185.1 L720.3,186.8 L720.5,188.4 L720.6,186.7 L720.8,189.9 L720.9,190.5 L721.1,190.7 L721.2,191.6 L721.4,194.1 L721.6,192.1 L721.7,191.0 L721.9,188.6 L722.0,184.3 L722.2,183.7 L722.3,182.8 L722.5,178.6 L722.7,176.1 L722.8,173.6 L723.0,173.4 L723.1,170.6 L723.3,171.5 L723.4,167.2 L723.6,165.9 L723.8,165.7 L723.9,162.5 L724.1,162.1 L724.2,160.2 L724.4,162.5 L724.5,164.2 L724.7,165.3 L724.8,164.3 L725.0,167.1 L725.2,165.8 L725.3,166.2 L725.5,168.1 L725.6,169.8 L725.8,171.2 L725.9,170.4 L726.1,169.6 L726.3,172.2 L726.4,172.0 L726.6,169.8 L726.7,171.6 L726.9,171.5 L727.0,167.7 L727.2,170.0 L727.4,171.4 L727.5,172.6 L727.7,175.0 L727.8,175.9 L728.0,173.3 L728.1,173.3 L728.3,172.5 L728.5,170.3 L728.6,168.7 L728.8,167.8 L728.9,167.7 L729.1,169.8 L729.2,171.1 L729.4,170.4 L729.6,173.0 L729.7,174.4 L729.9,177.1 L730.0,173.1 L730.2,172.2 L730.3,167.9 L730.5,166.4 L730.7,163.9 L730.8,163.9 L731.0,165.0 L731.1,165.4 L731.3,165.1 L731.4,164.8 L731.6,167.8 L731.8,167.7 L731.9,167.5 L732.1,166.9 L732.2,166.2 L732.4,164.5 L732.5,163.1 L732.7,162.0 L732.9,163.7 L733.0,162.4 L733.2,165.1 L733.3,164.2 L733.5,165.2 L733.6,165.8 L733.8,167.8 L734.0,166.0 L734.1,167.7 L734.3,169.9 L734.4,169.6 L734.6,171.5 L734.7,171.3 L734.9,169.7 L735.1,167.1 L735.2,166.7 L735.4,164.8 L735.5,162.0 L735.7,162.8 L735.8,162.1 L736.0,160.6 L736.2,158.5 L736.3,160.6 L736.5,160.2 L736.6,160.1 L736.8,163.2 L736.9,165.5 L737.1,166.1 L737.3,166.8 L737.4,169.6 L737.6,171.6 L737.7,171.6 L737.9,173.1 L738.0,174.5 L738.2,175.2 L738.4,175.2 L738.5,177.9 L738.7,178.9 L738.8,178.6 L739.0,180.5 L739.1,178.0 L739.3,179.0 L739.5,180.0 L739.6,181.1 L739.8,182.9 L739.9,184.7 L740.1,185.0 L740.2,188.4 L740.4,185.1 L740.6,183.0 L740.7,181.0 L740.9,178.8 L741.0,179.5 L741.2,177.1 L741.3,177.4 L741.5,180.0 L741.7,180.5 L741.8,181.3 L742.0,182.4 L742.1,182.8 L742.3,181.2 L742.4,179.7 L742.6,177.8 L742.8,176.0 L742.9,174.3 L743.1,177.1 L743.2,175.0 L743.4,178.2 L743.5,178.0 L743.7,179.3 L743.9,180.5 L744.0,182.8 L744.2,181.8 L744.3,181.4 L744.5,181.3 L744.6,181.6 L744.8,181.2 L744.9,180.9 L745.1,180.7 L745.3,181.7 L745.4,182.0 L745.6,183.9 L745.7,185.1 L745.9,186.5 L746.0,185.7 L746.2,183.8 L746.4,184.0 L746.5,184.1 L746.7,183.0 L746.8,184.7 L747.0,181.2 L747.1,178.9 L747.3,179.4 L747.5,178.4 L747.6,176.0 L747.8,177.1 L747.9,175.2 L748.1,173.4 L748.2,172.7 L748.4,173.0 L748.6,173.2 L748.7,171.5 L748.9,173.0 L749.0,173.0 L749.2,175.5 L749.3,175.0 L749.5,174.1 L749.7,175.2 L749.8,173.2 L750.0,174.6 L750.1,174.8 L750.3,173.7 L750.4,173.1 L750.6,169.6 L750.8,173.0 L750.9,171.7 L751.1,169.5 L751.2,170.0 L751.4,169.3 L751.5,167.7 L751.7,169.3 L751.9,167.9 L752.0,169.2 L752.2,169.3 L752.3,167.9 L752.5,165.8 L752.6,166.7 L752.8,164.4 L753.0,163.9 L753.1,161.8 L753.3,161.8 L753.4,162.0 L753.6,160.4 L753.7,159.9 L753.9,160.7 L754.1,163.4 L754.2,162.3 L754.4,165.8 L754.5,163.7 L754.7,161.8 L754.8,160.2 L755.0,159.3 L755.2,159.7 L755.3,160.2 L755.5,159.0 L755.6,159.3 L755.8,160.1 L755.9,161.2 L756.1,161.2 L756.3,162.0 L756.4,161.5 L756.6,159.8 L756.7,158.8 L756.9,157.6 L757.0,157.7 L757.2,158.3 L757.4,155.4 L757.5,154.9 L757.7,154.2 L757.8,154.3 L758.0,156.1 L758.1,156.4 L758.3,154.6 L758.5,153.4 L758.6,153.5 L758.8,152.6 L758.9,150.0 L759.1,150.7 L759.2,151.1 L759.4,150.4 L759.6,152.1 L759.7,151.7 L759.9,151.3 L760.0,154.5 L760.2,155.2 L760.3,153.4 L760.5,154.4 L760.7,154.9 L760.8,155.5 L761.0,158.3 L761.1,156.6 L761.3,159.5 L761.4,157.9 L761.6,160.1 L761.8,160.2 L761.9,162.0 L762.1,164.5 L762.2,166.5 L762.4,169.6 L762.5,171.2 L762.7,174.4 L762.9,175.2 L763.0,177.3 L763.2,175.2 L763.3,176.5 L763.5,177.4 L763.6,179.0 L763.8,179.0 L764.0,177.2 L764.1,179.5 L764.3,179.1 L764.4,179.9 L764.6,180.9 L764.7,182.8 L764.9,182.1 L765.1,182.1 L765.2,184.6 L765.4,185.2 L765.5,185.5 L765.7,188.4 L765.8,186.1 L766.0,185.4 L766.1,186.5 L766.3,185.8 L766.5,183.0 L766.6,182.8 L766.8,181.2 L766.9,177.2 L767.1,174.7 L767.2,174.0 L767.4,171.2 L767.6,167.7 L767.7,167.2 L767.9,166.1 L768.0,165.2 L768.2,163.9 L768.3,162.6 L768.5,160.2 L768.7,162.3 L768.8,158.4 L769.0,158.6 L769.1,156.0 L769.3,155.2 L769.4,152.6 L769.6,150.9 L769.8,149.2 L769.9,148.5 L770.1,144.7 L770.2,143.7 L770.4,143.2 L770.5,142.4 L770.7,142.5 L770.8,141.3 L771.0,142.5 L771.1,142.4 L771.3,145.1 L771.5,146.2 L771.6,148.5 L771.8,149.9 L771.9,152.6 L772.1,153.6 L772.2,154.5 L772.4,158.9 L772.6,159.7 L772.7,161.8 L772.9,161.2 L773.0,164.4 L773.2,163.9 L773.3,166.2 L773.5,166.6 L773.7,167.6 L773.8,166.0 L774.0,166.0 L774.1,167.7 L774.3,169.1 L774.4,169.0 L774.6,172.1 L774.8,172.9 L774.9,172.5 L775.1,171.5 L775.2,174.2 L775.4,174.0 L775.5,175.3 L775.7,174.6 L775.9,173.9 L776.0,175.2 L776.2,175.5 L776.3,172.1 L776.5,170.4 L776.6,171.3 L776.8,169.8 L776.9,169.6 L777.1,168.6 L777.3,166.0 L777.4,167.4 L777.6,166.3 L777.7,165.0 L777.9,165.8 L778.0,161.9 L778.2,163.7 L778.4,162.1 L778.5,161.0 L778.7,161.8 L778.8,163.9 L779.0,165.5 L779.1,165.1 L779.3,167.0 L779.5,169.7 L779.6,170.3 L779.8,169.6 L779.9,171.3 L780.1,172.1 L780.2,173.6 L780.4,174.3 L780.6,175.5 L780.7,173.3 L780.9,176.2 L781.0,175.1 L781.2,177.5 L781.3,177.3 L781.5,176.3 L781.7,175.2 L781.8,175.0 L782.0,175.9 L782.1,177.1 L782.3,175.8 L782.4,176.5 L782.6,177.1 L782.8,178.0 L782.9,178.0 L783.1,178.1 L783.2,176.8 L783.4,177.7 L783.5,175.2 L783.7,176.0 L783.9,175.4 L784.0,177.0 L784.2,175.2 L784.3,176.7 L784.5,173.3 L784.6,173.9 L784.8,173.2 L785.0,173.9 L785.1,170.7 L785.3,172.7 L785.4,169.6 L785.6,170.1 L785.7,169.3 L785.9,170.4 L786.1,169.9 L786.2,170.4 L786.4,171.5 L786.5,170.5 L786.7,170.0 L786.8,168.3 L787.0,170.2 L787.2,167.1 L787.3,167.7 L787.5,166.3 L787.6,166.2 L787.8,164.8 L787.9,166.8 L788.1,164.0 L788.2,165.8 L788.4,162.3 L788.6,163.8 L788.7,162.7 L788.9,161.7 L789.0,162.5 L789.2,163.9 L789.3,161.1 L789.5,161.0 L789.7,162.4 L789.8,161.7 L790.0,162.2 L790.1,162.0 L790.3,162.5 L790.4,163.7 L790.6,162.2 L790.8,161.7 L790.9,160.5 L791.1,158.3 L791.2,159.7 L791.4,158.1 L791.5,158.8 L791.7,158.1 L791.9,156.7 L792.0,154.5 L792.2,154.7 L792.3,155.8 L792.5,154.7 L792.6,156.4 L792.8,157.0 L793.0,156.4 L793.1,153.6 L793.3,152.0 L793.4,153.4 L793.6,150.9 L793.7,150.2 L793.9,148.8 L794.1,150.2 L794.2,151.1 L794.4,150.1 L794.5,151.5 L794.7,152.9 L794.8,154.5 L795.0,156.6 L795.2,157.1 L795.3,156.5 L795.5,157.2 L795.6,160.1 L795.8,158.3 L795.9,159.3 L796.1,155.5 L796.3,155.2 L796.4,153.3 L796.6,153.3 L796.7,152.6 L796.9,151.7 L797.0,153.0 L797.2,152.5 L797.4,152.3 L797.5,154.3 L797.7,150.7 L797.8,151.1 L798.0,153.6 L798.1,153.2 L798.3,152.3 L798.4,153.4 L798.6,156.4 L798.8,156.5 L798.9,158.3 L799.1,161.2 L799.2,161.9 L799.4,165.3 L799.5,167.7 L799.7,168.6 L799.9,169.1 L800.0,172.9 L800.2,172.1 L800.3,174.3 L800.5,175.2 L800.6,176.6 L800.8,177.5 L801.0,177.9 L801.1,178.7 L801.3,180.0 L801.4,180.9 L801.6,182.0 L801.7,179.8 L801.9,181.0 L802.1,181.2 L802.2,179.4 L802.4,177.1 L802.5,179.4 L802.7,180.7 L802.8,181.6 L803.0,180.9 L803.2,182.5 L803.3,180.9 L803.5,181.7 L803.6,179.0 L803.8,175.5 L803.9,175.4 L804.1,170.9 L804.3,167.7 L804.4,167.5 L804.6,163.9 L804.7,163.7 L804.9,161.2 L805.0,160.2 L805.2,158.3 L805.4,154.9 L805.5,153.2 L805.7,154.0 L805.8,154.1 L806.0,154.8 L806.1,154.5 L806.3,153.4 L806.5,154.4 L806.6,154.0 L806.8,150.9 L806.9,153.1 L807.1,150.7 L807.2,150.0 L807.4,150.9 L807.6,150.6 L807.7,153.0 L807.9,153.7 L808.0,152.6 L808.2,153.1 L808.3,155.1 L808.5,157.4 L808.7,157.8 L808.8,157.4 L809.0,160.2 L809.1,159.6 L809.3,162.0 L809.4,162.8 L809.6,162.7 L809.7,164.0 L809.9,163.9 L810.1,164.7 L810.2,166.8 L810.4,169.2 L810.5,168.0 L810.7,169.6 L810.8,169.6 L811.0,172.7 L811.2,171.6 L811.3,172.6 L811.5,174.8 L811.6,173.6 L811.8,177.1 L811.9,174.6 L812.1,175.5 L812.3,173.8 L812.4,173.9 L812.6,171.6 L812.7,171.5 L812.9,170.8 L813.0,169.3 L813.2,167.7 L813.4,166.1 L813.5,163.4 L813.7,163.9 L813.8,163.5 L814.0,162.5 L814.1,163.4 L814.3,161.8 L814.5,163.6 L814.6,162.0 L814.8,164.8 L814.9,168.5 L815.1,170.1 L815.2,171.9 L815.4,174.9 L815.6,175.2 L815.7,177.4 L815.9,178.8 L816.0,179.0 L816.2,179.4 L816.3,182.2 L816.5,179.0 L816.7,183.1 L816.8,182.4 L817.0,183.2 L817.1,184.6 L817.3,184.6 L817.4,184.7 L817.6,183.8 L817.8,183.4 L817.9,183.5 L818.1,180.6 L818.2,181.8 L818.4,182.8 L818.5,182.4 L818.7,185.1 L818.9,184.8 L819.0,187.3 L819.2,186.3 L819.3,186.5 L819.5,186.5 L819.6,188.1 L819.8,185.5 L819.9,185.8 L820.1,187.6 L820.3,188.4 L820.4,186.8 L820.6,187.4 L820.7,188.4 L820.9,189.7 L821.0,189.1 L821.2,190.3 L821.4,190.7 L821.5,190.9 L821.7,192.2 L821.8,192.6 L822.0,193.0 L822.1,192.2 L822.3,191.8 L822.5,192.4 L822.6,193.0 L822.8,191.8 L822.9,193.4 L823.1,194.1 L823.2,193.1 L823.4,192.9 L823.6,192.0 L823.7,191.6 L823.9,191.6 L824.0,190.3 L824.2,190.8 L824.3,192.4 L824.5,189.8 L824.7,189.7 L824.8,188.4 L825.0,186.5 L825.1,187.3 L825.3,186.9 L825.4,184.1 L825.6,180.0 L825.8,180.5 L825.9,177.1 L826.1,173.4 L826.2,171.5 L826.4,170.5 L826.5,167.3 L826.7,167.8 L826.9,165.8 L827.0,166.1 L827.2,167.2 L827.3,166.5 L827.5,166.1 L827.6,165.7 L827.8,167.7 L828.0,167.6 L828.1,170.0 L828.3,172.0 L828.4,171.5 L828.6,174.0 L828.7,177.1 L828.9,177.5 L829.1,178.3 L829.2,181.7 L829.4,182.4 L829.5,184.6 L829.7,188.4 L829.8,187.0 L830.0,190.6 L830.2,189.1 L830.3,191.2 L830.5,193.4 L830.6,192.2 L830.8,193.4 L830.9,190.8 L831.1,189.8 L831.2,188.0 L831.4,186.4 L831.6,186.5 L831.7,183.7 L831.9,182.3 L832.0,183.4 L832.2,181.8 L832.3,182.8 L832.5,182.8 L832.7,180.2 L832.8,181.2 L833.0,178.6 L833.1,179.2 L833.3,179.5 L833.4,179.0 L833.6,177.0 L833.8,178.7 L833.9,178.2 L834.1,176.7 L834.2,178.7 L834.4,180.9 L834.5,178.3 L834.7,177.2 L834.9,179.2 L835.0,178.6 L835.2,179.1 L835.3,177.1 L835.5,176.8 L835.6,178.0 L835.8,179.2 L836.0,179.0 L836.1,178.8 L836.3,179.0 L836.4,180.4 L836.6,181.0 L836.7,181.5 L836.9,181.8 L837.1,182.0 L837.2,180.9 L837.4,181.3 L837.5,180.7 L837.7,178.2 L837.8,177.8 L838.0,178.0 L838.2,175.2 L838.3,176.9 L838.5,176.8 L838.6,177.0 L838.8,175.6 L838.9,175.7 L839.1,173.3 L839.3,174.4 L839.4,173.0 L839.6,174.1 L839.7,173.3 L839.9,174.4 L840.0,177.1 L840.2,174.6 L840.4,176.9 L840.5,176.3 L840.7,177.3 L840.8,178.5 L841.0,179.0 L841.1,180.1 L841.3,180.8 L841.5,180.4 L841.6,178.8 L841.8,176.3 L841.9,175.2 L842.1,175.4 L842.2,175.5 L842.4,174.5 L842.5,176.9 L842.7,175.9 L842.9,179.0 L843.0,178.2 L843.2,180.3 L843.3,178.9 L843.5,180.3 L843.6,182.6 L843.8,182.8 L844.0,184.3 L844.1,183.7 L844.3,185.1 L844.4,185.1 L844.6,184.1 L844.7,186.5 L844.9,186.5 L845.1,185.9 L845.2,185.8 L845.4,183.7 L845.5,184.6 L845.7,184.7" fill="none" stroke="#0000ff" stroke-width="1.55" stroke-linejoin="round"/>
<path d="M53.5,218.5 L213.5,218.5 M213.5,185.5 L845.5,185.5" fill="none" stroke="#ff33ff" stroke-width="1.6"/><line x1="213.7" y1="185.5" x2="213.7" y2="218.5" stroke="#ff66ff" stroke-width="1"/>
<line x1="212" y1="77.3" x2="212" y2="394.5" stroke="#ff0000" stroke-width="2.3" stroke-dasharray="8.5 6.58"/>
<rect x="53.5" y="76.5" width="792.0" height="318.0" fill="none" stroke="#3c3c3c" stroke-width="1"/>
</svg>
<div class="t title" style="left:313px;top:32px">粉煤<span class="d1">1</span>号炉有效气含量历史数据</div>
<div class="t ann" style="left:70px;top:128.3px">系统投用前<span class="dg">88.13</span></div>
<div class="t ann" style="left:387px;top:128.3px">系统投用后<span class="dg">89.21</span></div>
<div class="t ax" style="left:23px;top:73.3px">95</div>
<div class="t ax" style="left:23px;top:179.3px">90</div>
<div class="t ax" style="left:23px;top:285.3px">85</div>
<div class="t ax" style="left:23px;top:391.3px">80</div>
<div class="t ax" style="left:55px;top:401.3px">06-21 17:06</div>
<div class="t ax" style="left:186px;top:401.3px">07-05 19:53</div>
<div class="t ax" style="left:344px;top:401.3px">07-19 22:41</div>
<div class="t ax" style="left:502px;top:401.3px">08-03 01:29</div>
<div class="t ax" style="left:660px;top:401.3px">08-17 04:17</div>
<div class="t ax" style="left:792px;top:401.3px">08-31 07:05</div>
</body></html>
